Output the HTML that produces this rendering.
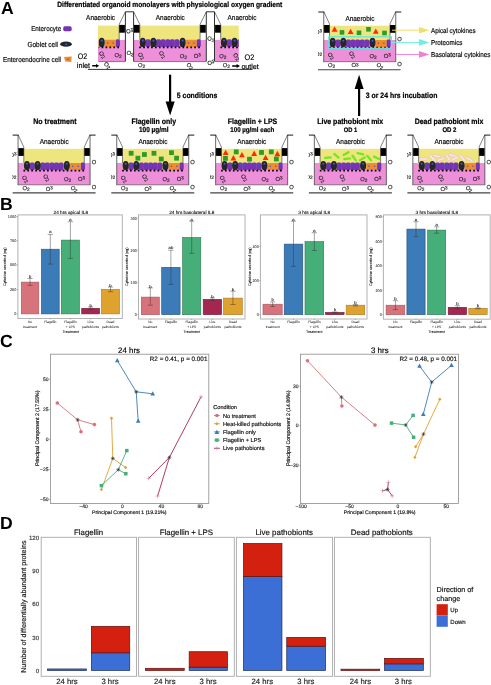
<!DOCTYPE html>
<html lang="en"><head><meta charset="utf-8"><title>Figure</title>
<style>html,body{margin:0;padding:0;background:#fff;overflow:hidden}svg{display:block}text{font-family:'Liberation Sans',sans-serif;text-rendering:geometricPrecision}</style>
</head><body>
<svg width="491" height="685" viewBox="0 0 491 685">
<rect width="491" height="685" fill="#fff"/>
<text x="1.00" y="13.50" font-size="17.6" text-anchor="start" font-weight="bold">A</text>
<text x="169.80" y="6.80" font-size="7.51" text-anchor="middle" font-weight="bold" stroke="#000" stroke-width="0.22" textLength="225.00" lengthAdjust="spacingAndGlyphs">Differentiated organoid monolayers with physiological oxygen gradient</text>
<g>
<clipPath id="cl1"><rect x="98.7" y="0" width="30" height="80"/></clipPath>
<clipPath id="cl2"><rect x="210" y="0" width="28.8" height="80"/></clipPath>
<rect x="98.00" y="25.60" width="2.00" height="21.40" fill="#EEE57E" />
<rect x="98.00" y="47.00" width="2.00" height="14.60" fill="#EE8FD9" />
<g clip-path="url(#cl1)">
<rect x="52.80" y="39.80" width="72.30" height="21.80" fill="#EE8FD9" />
<rect x="58.70" y="25.60" width="60.50" height="19.80" fill="#EEE57E" />
<rect x="53.40" y="32.30" width="5.30" height="7.50" fill="#fff" />
<rect x="119.20" y="32.30" width="5.30" height="7.50" fill="#fff" />
<rect x="53.00" y="24.90" width="5.70" height="7.80" fill="#000" />
<rect x="119.20" y="24.90" width="5.70" height="7.80" fill="#000" />
<rect x="64.70" y="39.30" width="5.0" height="7.7" rx="1.6" fill="#7833B4"/>
<circle cx="67.20" cy="41.50" r="0.8" fill="#3a56e0" opacity="0.75"/>
<rect x="75.10" y="39.30" width="5.0" height="7.7" rx="1.6" fill="#7833B4"/>
<circle cx="77.60" cy="41.50" r="0.8" fill="#3a56e0" opacity="0.75"/>
<rect x="79.70" y="39.30" width="5.0" height="7.7" rx="1.6" fill="#7833B4"/>
<circle cx="82.20" cy="41.50" r="0.8" fill="#3a56e0" opacity="0.75"/>
<rect x="84.30" y="39.30" width="5.0" height="7.7" rx="1.6" fill="#7833B4"/>
<circle cx="86.80" cy="41.50" r="0.8" fill="#3a56e0" opacity="0.75"/>
<rect x="88.90" y="39.30" width="5.0" height="7.7" rx="1.6" fill="#7833B4"/>
<circle cx="91.40" cy="41.50" r="0.8" fill="#3a56e0" opacity="0.75"/>
<rect x="93.50" y="39.30" width="5.0" height="7.7" rx="1.6" fill="#7833B4"/>
<circle cx="96.00" cy="41.50" r="0.8" fill="#3a56e0" opacity="0.75"/>
<rect x="115.45" y="39.30" width="4.5" height="7.7" rx="1.6" fill="#7833B4"/>
<circle cx="117.70" cy="41.50" r="0.8" fill="#3a56e0" opacity="0.75"/>
<rect x="104.90" y="39.80" width="10.90" height="7.1" rx="0.6" fill="#F08C2E"/>
<circle cx="107.62" cy="43.10" r="0.75" fill="#3a56e0"/>
<circle cx="113.08" cy="43.10" r="0.75" fill="#3a56e0"/>
<ellipse cx="61.90" cy="42.40" rx="3.1" ry="4.7" fill="#26262a"/>
<circle cx="61.90" cy="40.60" r="1.05" fill="#3a56e0"/>
<ellipse cx="72.50" cy="42.40" rx="3.1" ry="4.7" fill="#26262a"/>
<circle cx="72.50" cy="40.60" r="1.05" fill="#3a56e0"/>
<ellipse cx="101.70" cy="42.40" rx="3.1" ry="4.7" fill="#26262a"/>
<circle cx="101.70" cy="40.60" r="1.05" fill="#3a56e0"/>
<line x1="58.35" y1="47.40" x2="119.30" y2="47.40" stroke="#000" stroke-width="1.7" stroke-dasharray="1.7 2.23"/>
<line x1="52.50" y1="61.60" x2="125.40" y2="61.60" stroke="#555" stroke-width="0.7" />
</g>
<text transform="translate(102.40 54.60) rotate(48)" x="0" y="1.89" font-size="5.8" text-anchor="middle" fill="#222" stroke="#222" stroke-width="0.15">O<tspan font-size="4.76" dy="0.7">2</tspan></text>
<text transform="translate(118.00 55.00)" x="0" y="1.89" font-size="5.8" text-anchor="middle" fill="#222" stroke="#222" stroke-width="0.15">O<tspan font-size="4.76" dy="0.7">2</tspan></text>
<rect x="133.70" y="39.80" width="72.30" height="21.80" fill="#EE8FD9" />
<rect x="139.60" y="25.60" width="60.50" height="19.80" fill="#EEE57E" />
<rect x="134.30" y="32.30" width="5.30" height="7.50" fill="#fff" />
<rect x="200.10" y="32.30" width="5.30" height="7.50" fill="#fff" />
<rect x="133.90" y="24.90" width="5.70" height="7.80" fill="#000" />
<rect x="200.10" y="24.90" width="5.70" height="7.80" fill="#000" />
<rect x="145.60" y="39.30" width="5.0" height="7.7" rx="1.6" fill="#7833B4"/>
<circle cx="148.10" cy="41.50" r="0.8" fill="#3a56e0" opacity="0.75"/>
<rect x="156.00" y="39.30" width="5.0" height="7.7" rx="1.6" fill="#7833B4"/>
<circle cx="158.50" cy="41.50" r="0.8" fill="#3a56e0" opacity="0.75"/>
<rect x="160.60" y="39.30" width="5.0" height="7.7" rx="1.6" fill="#7833B4"/>
<circle cx="163.10" cy="41.50" r="0.8" fill="#3a56e0" opacity="0.75"/>
<rect x="165.20" y="39.30" width="5.0" height="7.7" rx="1.6" fill="#7833B4"/>
<circle cx="167.70" cy="41.50" r="0.8" fill="#3a56e0" opacity="0.75"/>
<rect x="169.80" y="39.30" width="5.0" height="7.7" rx="1.6" fill="#7833B4"/>
<circle cx="172.30" cy="41.50" r="0.8" fill="#3a56e0" opacity="0.75"/>
<rect x="174.40" y="39.30" width="5.0" height="7.7" rx="1.6" fill="#7833B4"/>
<circle cx="176.90" cy="41.50" r="0.8" fill="#3a56e0" opacity="0.75"/>
<rect x="196.35" y="39.30" width="4.5" height="7.7" rx="1.6" fill="#7833B4"/>
<circle cx="198.60" cy="41.50" r="0.8" fill="#3a56e0" opacity="0.75"/>
<rect x="185.80" y="39.80" width="10.90" height="7.1" rx="0.6" fill="#F08C2E"/>
<circle cx="188.53" cy="43.10" r="0.75" fill="#3a56e0"/>
<circle cx="193.98" cy="43.10" r="0.75" fill="#3a56e0"/>
<ellipse cx="142.80" cy="42.40" rx="3.1" ry="4.7" fill="#26262a"/>
<circle cx="142.80" cy="40.60" r="1.05" fill="#3a56e0"/>
<ellipse cx="153.40" cy="42.40" rx="3.1" ry="4.7" fill="#26262a"/>
<circle cx="153.40" cy="40.60" r="1.05" fill="#3a56e0"/>
<ellipse cx="182.60" cy="42.40" rx="3.1" ry="4.7" fill="#26262a"/>
<circle cx="182.60" cy="40.60" r="1.05" fill="#3a56e0"/>
<line x1="139.25" y1="47.40" x2="200.20" y2="47.40" stroke="#000" stroke-width="1.7" stroke-dasharray="1.7 2.23"/>
<line x1="133.40" y1="61.60" x2="206.30" y2="61.60" stroke="#555" stroke-width="0.7" />
<text transform="translate(141.20 55.80) rotate(48)" x="0" y="1.89" font-size="5.8" text-anchor="middle" fill="#222" stroke="#222" stroke-width="0.15">O<tspan font-size="4.76" dy="0.7">2</tspan></text>
<text transform="translate(162.40 54.50) rotate(48)" x="0" y="1.89" font-size="5.8" text-anchor="middle" fill="#222" stroke="#222" stroke-width="0.15">O<tspan font-size="4.76" dy="0.7">2</tspan></text>
<text transform="translate(183.30 56.20)" x="0" y="1.89" font-size="5.8" text-anchor="middle" fill="#222" stroke="#222" stroke-width="0.15">O<tspan font-size="4.76" dy="0.7">2</tspan></text>
<text transform="translate(197.40 55.70) scale(1 -1)" x="0" y="1.89" font-size="5.8" text-anchor="middle" fill="#222" stroke="#222" stroke-width="0.15">O<tspan font-size="4.76" dy="0.7">2</tspan></text>
<g clip-path="url(#cl2)">
<rect x="214.90" y="39.80" width="72.30" height="21.80" fill="#EE8FD9" />
<rect x="220.80" y="25.60" width="60.50" height="19.80" fill="#EEE57E" />
<rect x="215.50" y="32.30" width="5.30" height="7.50" fill="#fff" />
<rect x="281.30" y="32.30" width="5.30" height="7.50" fill="#fff" />
<rect x="215.10" y="24.90" width="5.70" height="7.80" fill="#000" />
<rect x="281.30" y="24.90" width="5.70" height="7.80" fill="#000" />
<rect x="226.80" y="39.30" width="5.0" height="7.7" rx="1.6" fill="#7833B4"/>
<circle cx="229.30" cy="41.50" r="0.8" fill="#3a56e0" opacity="0.75"/>
<rect x="237.20" y="39.30" width="5.0" height="7.7" rx="1.6" fill="#7833B4"/>
<circle cx="239.70" cy="41.50" r="0.8" fill="#3a56e0" opacity="0.75"/>
<rect x="241.80" y="39.30" width="5.0" height="7.7" rx="1.6" fill="#7833B4"/>
<circle cx="244.30" cy="41.50" r="0.8" fill="#3a56e0" opacity="0.75"/>
<rect x="246.40" y="39.30" width="5.0" height="7.7" rx="1.6" fill="#7833B4"/>
<circle cx="248.90" cy="41.50" r="0.8" fill="#3a56e0" opacity="0.75"/>
<rect x="251.00" y="39.30" width="5.0" height="7.7" rx="1.6" fill="#7833B4"/>
<circle cx="253.50" cy="41.50" r="0.8" fill="#3a56e0" opacity="0.75"/>
<rect x="255.60" y="39.30" width="5.0" height="7.7" rx="1.6" fill="#7833B4"/>
<circle cx="258.10" cy="41.50" r="0.8" fill="#3a56e0" opacity="0.75"/>
<rect x="277.55" y="39.30" width="4.5" height="7.7" rx="1.6" fill="#7833B4"/>
<circle cx="279.80" cy="41.50" r="0.8" fill="#3a56e0" opacity="0.75"/>
<rect x="267.00" y="39.80" width="10.90" height="7.1" rx="0.6" fill="#F08C2E"/>
<circle cx="269.73" cy="43.10" r="0.75" fill="#3a56e0"/>
<circle cx="275.17" cy="43.10" r="0.75" fill="#3a56e0"/>
<ellipse cx="224.00" cy="42.40" rx="3.1" ry="4.7" fill="#26262a"/>
<circle cx="224.00" cy="40.60" r="1.05" fill="#3a56e0"/>
<ellipse cx="234.60" cy="42.40" rx="3.1" ry="4.7" fill="#26262a"/>
<circle cx="234.60" cy="40.60" r="1.05" fill="#3a56e0"/>
<ellipse cx="263.80" cy="42.40" rx="3.1" ry="4.7" fill="#26262a"/>
<circle cx="263.80" cy="40.60" r="1.05" fill="#3a56e0"/>
<line x1="220.45" y1="47.40" x2="281.40" y2="47.40" stroke="#000" stroke-width="1.7" stroke-dasharray="1.7 2.23"/>
<line x1="214.60" y1="61.60" x2="287.50" y2="61.60" stroke="#555" stroke-width="0.7" />
</g>
<text transform="translate(222.80 56.00)" x="0" y="1.89" font-size="5.8" text-anchor="middle" fill="#222" stroke="#222" stroke-width="0.15">O<tspan font-size="4.76" dy="0.7">2</tspan></text>
<text transform="translate(236.60 56.60) rotate(50)" x="0" y="1.89" font-size="5.8" text-anchor="middle" fill="#222" stroke="#222" stroke-width="0.15">O<tspan font-size="4.76" dy="0.7">2</tspan></text>
<rect x="125.40" y="11.80" width="8.20" height="50.20" fill="#fff" />
<path d="M125.40 61.5 V11.8 H133.60 V61.5" fill="none" stroke="#1a1a1a" stroke-width="0.9" />
<path d="M125.40 11.8 L119.20 24.4 V39.8" fill="none" stroke="#1a1a1a" stroke-width="0.55" />
<path d="M133.60 11.8 L139.80 24.4 V39.8" fill="none" stroke="#1a1a1a" stroke-width="0.55" />
<text transform="translate(129.70 31.00) rotate(-5) scale(1 -1)" x="0" y="1.89" font-size="5.8" text-anchor="middle" fill="#222" stroke="#222" stroke-width="0.15">O<tspan font-size="4.76" dy="0.7">2</tspan></text>
<text transform="translate(130.00 53.30) rotate(10)" x="0" y="1.89" font-size="5.8" text-anchor="middle" fill="#222" stroke="#222" stroke-width="0.15">O<tspan font-size="4.76" dy="0.7">2</tspan></text>
<rect x="206.30" y="11.80" width="8.20" height="50.20" fill="#fff" />
<path d="M206.30 61.5 V11.8 H214.50 V61.5" fill="none" stroke="#1a1a1a" stroke-width="0.9" />
<path d="M206.30 11.8 L200.10 24.4 V39.8" fill="none" stroke="#1a1a1a" stroke-width="0.55" />
<path d="M214.50 11.8 L220.70 24.4 V39.8" fill="none" stroke="#1a1a1a" stroke-width="0.55" />
<text transform="translate(210.90 39.00) rotate(8)" x="0" y="1.89" font-size="5.8" text-anchor="middle" fill="#222" stroke="#222" stroke-width="0.15">O<tspan font-size="4.76" dy="0.7">2</tspan></text>
<text transform="translate(210.90 62.60) rotate(-5) scale(1 -1)" x="0" y="1.89" font-size="5.8" text-anchor="middle" fill="#222" stroke="#222" stroke-width="0.15">O<tspan font-size="4.76" dy="0.7">2</tspan></text>
<text x="100.60" y="20.12" font-size="7.28" text-anchor="middle" stroke="#000" stroke-width="0.16" textLength="29.00" lengthAdjust="spacingAndGlyphs">Anaerobic</text>
<text x="170.30" y="20.12" font-size="7.28" text-anchor="middle" stroke="#000" stroke-width="0.16" textLength="29.00" lengthAdjust="spacingAndGlyphs">Anaerobic</text>
<text x="242.00" y="20.12" font-size="7.28" text-anchor="middle" stroke="#000" stroke-width="0.16" textLength="29.00" lengthAdjust="spacingAndGlyphs">Anaerobic</text>
<text transform="translate(107.50 65.30) rotate(40)" x="0" y="1.89" font-size="5.8" text-anchor="middle" fill="#222" stroke="#222" stroke-width="0.15">O<tspan font-size="4.76" dy="0.7">2</tspan></text>
<text transform="translate(141.50 65.30)" x="0" y="1.89" font-size="5.8" text-anchor="middle" fill="#222" stroke="#222" stroke-width="0.15">O<tspan font-size="4.76" dy="0.7">2</tspan></text>
<text transform="translate(190.00 66.00) rotate(40)" x="0" y="1.89" font-size="5.8" text-anchor="middle" fill="#222" stroke="#222" stroke-width="0.15">O<tspan font-size="4.76" dy="0.7">2</tspan></text>
<text transform="translate(226.40 65.50)" x="0" y="1.89" font-size="5.8" text-anchor="middle" fill="#222" stroke="#222" stroke-width="0.15">O<tspan font-size="4.76" dy="0.7">2</tspan></text>
<line x1="88.00" y1="69.40" x2="252.50" y2="69.40" stroke="#333" stroke-width="1.0" />
<text x="82.40" y="59.18" font-size="8.0" text-anchor="middle" stroke="#000" stroke-width="0.16" textLength="9.40" lengthAdjust="spacingAndGlyphs">O2</text>
<text x="83.40" y="67.74" font-size="7.6" text-anchor="middle" stroke="#000" stroke-width="0.16" textLength="13.20" lengthAdjust="spacingAndGlyphs">inlet</text>
<path d="M92.2 65.1 H96.0 V63.9 L99.2 65.8 L96.0 67.7 V66.5 H92.2 Z" fill="#000" />
<text x="249.40" y="60.18" font-size="8.0" text-anchor="middle" stroke="#000" stroke-width="0.16" textLength="9.80" lengthAdjust="spacingAndGlyphs">O2</text>
<text x="250.10" y="68.66" font-size="7.4" text-anchor="middle" stroke="#000" stroke-width="0.16" textLength="17.40" lengthAdjust="spacingAndGlyphs">outlet</text>
<path d="M232.2 65.3 H236.6 V64.1 L240 66 L236.6 67.9 V66.7 H232.2 Z" fill="#000" />
<text x="61.20" y="30.55" font-size="7.09" text-anchor="end" stroke="#000" stroke-width="0.16" textLength="30.00" lengthAdjust="spacingAndGlyphs">Enterocyte</text>
<rect x="63.2" y="26.2" width="8.5" height="5" rx="1.7" fill="#7833B4"/>
<circle cx="67.6" cy="28.7" r="0.8" fill="#3a56e0"/>
<text x="58.00" y="46.62" font-size="7.29" text-anchor="end" stroke="#000" stroke-width="0.16" textLength="30.50" lengthAdjust="spacingAndGlyphs">Goblet cell</text>
<ellipse cx="66" cy="44.2" rx="5.8" ry="2.6" fill="#26262a"/>
<circle cx="66.2" cy="44.2" r="1" fill="#3a56e0"/>
<text x="61.00" y="61.99" font-size="7.19" text-anchor="end" stroke="#000" stroke-width="0.16" textLength="58.00" lengthAdjust="spacingAndGlyphs">Enteroendocrine cell</text>
<path d="M64 56.9 L71.7 56.4 L71.3 62 L65.3 61.6 Z" fill="#F08C2E"/>
<circle cx="68" cy="59.2" r="0.8" fill="#3a56e0"/>
</g>
<g>
<rect x="323.60" y="39.90" width="72.30" height="21.80" fill="#EE8FD9" />
<rect x="329.50" y="25.70" width="60.50" height="19.80" fill="#EEE57E" />
<rect x="324.20" y="32.40" width="5.30" height="7.50" fill="#fff" />
<rect x="390.00" y="32.40" width="5.30" height="7.50" fill="#fff" />
<rect x="323.80" y="25.00" width="5.70" height="7.80" fill="#000" />
<rect x="390.00" y="25.00" width="5.70" height="7.80" fill="#000" />
<rect x="335.50" y="39.40" width="5.0" height="7.7" rx="1.6" fill="#7833B4"/>
<circle cx="338.00" cy="41.60" r="0.8" fill="#3a56e0" opacity="0.75"/>
<rect x="345.90" y="39.40" width="5.0" height="7.7" rx="1.6" fill="#7833B4"/>
<circle cx="348.40" cy="41.60" r="0.8" fill="#3a56e0" opacity="0.75"/>
<rect x="350.50" y="39.40" width="5.0" height="7.7" rx="1.6" fill="#7833B4"/>
<circle cx="353.00" cy="41.60" r="0.8" fill="#3a56e0" opacity="0.75"/>
<rect x="355.10" y="39.40" width="5.0" height="7.7" rx="1.6" fill="#7833B4"/>
<circle cx="357.60" cy="41.60" r="0.8" fill="#3a56e0" opacity="0.75"/>
<rect x="359.70" y="39.40" width="5.0" height="7.7" rx="1.6" fill="#7833B4"/>
<circle cx="362.20" cy="41.60" r="0.8" fill="#3a56e0" opacity="0.75"/>
<rect x="364.30" y="39.40" width="5.0" height="7.7" rx="1.6" fill="#7833B4"/>
<circle cx="366.80" cy="41.60" r="0.8" fill="#3a56e0" opacity="0.75"/>
<rect x="386.25" y="39.40" width="4.5" height="7.7" rx="1.6" fill="#7833B4"/>
<circle cx="388.50" cy="41.60" r="0.8" fill="#3a56e0" opacity="0.75"/>
<rect x="375.70" y="39.90" width="10.90" height="7.1" rx="0.6" fill="#F08C2E"/>
<circle cx="378.43" cy="43.20" r="0.75" fill="#3a56e0"/>
<circle cx="383.88" cy="43.20" r="0.75" fill="#3a56e0"/>
<ellipse cx="332.70" cy="42.50" rx="3.1" ry="4.7" fill="#26262a"/>
<circle cx="332.70" cy="40.70" r="1.05" fill="#3a56e0"/>
<ellipse cx="343.30" cy="42.50" rx="3.1" ry="4.7" fill="#26262a"/>
<circle cx="343.30" cy="40.70" r="1.05" fill="#3a56e0"/>
<ellipse cx="372.50" cy="42.50" rx="3.1" ry="4.7" fill="#26262a"/>
<circle cx="372.50" cy="40.70" r="1.05" fill="#3a56e0"/>
<line x1="329.15" y1="47.50" x2="390.10" y2="47.50" stroke="#000" stroke-width="1.7" stroke-dasharray="1.7 2.23"/>
<line x1="323.30" y1="61.70" x2="396.20" y2="61.70" stroke="#555" stroke-width="0.7" />
<text transform="translate(331.10 55.90) rotate(48)" x="0" y="1.89" font-size="5.8" text-anchor="middle" fill="#222" stroke="#222" stroke-width="0.15">O<tspan font-size="4.76" dy="0.7">2</tspan></text>
<text transform="translate(352.30 54.60) rotate(48)" x="0" y="1.89" font-size="5.8" text-anchor="middle" fill="#222" stroke="#222" stroke-width="0.15">O<tspan font-size="4.76" dy="0.7">2</tspan></text>
<text transform="translate(373.20 56.30)" x="0" y="1.89" font-size="5.8" text-anchor="middle" fill="#222" stroke="#222" stroke-width="0.15">O<tspan font-size="4.76" dy="0.7">2</tspan></text>
<text transform="translate(387.30 55.80) scale(1 -1)" x="0" y="1.89" font-size="5.8" text-anchor="middle" fill="#222" stroke="#222" stroke-width="0.15">O<tspan font-size="4.76" dy="0.7">2</tspan></text>
<text transform="translate(331.70 65.50)" x="0" y="1.89" font-size="5.8" text-anchor="middle" fill="#222" stroke="#222" stroke-width="0.15">O<tspan font-size="4.76" dy="0.7">2</tspan></text>
<text transform="translate(355.10 65.30) scale(1 -1)" x="0" y="1.89" font-size="5.8" text-anchor="middle" fill="#222" stroke="#222" stroke-width="0.15">O<tspan font-size="4.76" dy="0.7">2</tspan></text>
<text transform="translate(380.10 65.70) rotate(28)" x="0" y="1.89" font-size="5.8" text-anchor="middle" fill="#222" stroke="#222" stroke-width="0.15">O<tspan font-size="4.76" dy="0.7">2</tspan></text>
<line x1="323.75" y1="11.90" x2="323.75" y2="61.80" stroke="#5a5a5a" stroke-width="0.9" />
<line x1="395.75" y1="11.90" x2="395.75" y2="61.80" stroke="#5a5a5a" stroke-width="0.9" />
<line x1="318.30" y1="12.00" x2="324.20" y2="12.00" stroke="#1a1a1a" stroke-width="1.0" />
<line x1="395.30" y1="12.00" x2="401.30" y2="12.00" stroke="#1a1a1a" stroke-width="1.0" />
<path d="M323.90 11.90 L329.50 23.90 V39.90" fill="none" stroke="#1a1a1a" stroke-width="0.55" />
<path d="M395.60 11.90 L390.00 23.90 V39.90" fill="none" stroke="#1a1a1a" stroke-width="0.55" />
<clipPath id="sc1"><rect x="318.00" y="21.90" width="6" height="45"/></clipPath>
<g clip-path="url(#sc1)">
<text transform="translate(318.70 31.70) scale(1 -1)" x="0" y="1.89" font-size="5.8" text-anchor="middle" fill="#222" stroke="#222" stroke-width="0.15">O<tspan font-size="4.76" dy="0.7">2</tspan></text>
<text transform="translate(318.50 53.70)" x="0" y="1.89" font-size="5.8" text-anchor="middle" fill="#222" stroke="#222" stroke-width="0.15">O<tspan font-size="4.76" dy="0.7">2</tspan></text>
</g>
<text x="399.60" y="41.29" font-size="5.8" text-anchor="middle" fill="#222" stroke="#222" stroke-width="0.16">O</text>
<text x="399.60" y="65.59" font-size="5.8" text-anchor="middle" fill="#222" stroke="#222" stroke-width="0.16">O</text>
<line x1="318.00" y1="69.80" x2="400.60" y2="69.80" stroke="#444" stroke-width="1.1" />
<text x="359.90" y="20.52" font-size="7.28" text-anchor="middle" stroke="#000" stroke-width="0.16" textLength="29.00" lengthAdjust="spacingAndGlyphs">Anaerobic</text>
<rect x="339.70" y="30.10" width="4.60" height="4.60" fill="#2f9a2a" />
<rect x="356.70" y="30.50" width="4.60" height="4.60" fill="#2f9a2a" />
<rect x="366.20" y="27.00" width="4.60" height="4.60" fill="#2f9a2a" />
<rect x="382.20" y="30.70" width="4.60" height="4.60" fill="#2f9a2a" />
<path d="M331.70 31.64 L337.50 31.64 L334.60 26.30 Z" fill="#ff2a05" />
<path d="M347.70 34.04 L353.50 34.04 L350.60 28.70 Z" fill="#ff2a05" />
<path d="M372.90 33.84 L378.70 33.84 L375.80 28.50 Z" fill="#ff2a05" />
<rect x="328.80" y="36.80" width="62.60" height="11.50" fill="none" stroke="#5ae8dc" stroke-width="1.2" />
<line x1="392.00" y1="30.20" x2="421.00" y2="30.20" stroke="#eedf6a" stroke-width="1.0" />
<path d="M419 26.90 L429.4 30.20 L419 33.50 Z" fill="#eedf6a" />
<line x1="391.40" y1="42.40" x2="421.00" y2="42.40" stroke="#6cf0e0" stroke-width="1.0" />
<path d="M419 39.10 L429.4 42.40 L419 45.70 Z" fill="#6cf0e0" />
<line x1="396.00" y1="54.40" x2="421.00" y2="54.40" stroke="#f07fd6" stroke-width="1.0" />
<path d="M419 51.10 L429.4 54.40 L419 57.70 Z" fill="#f07fd6" />
<text x="431.00" y="32.72" font-size="7.01" text-anchor="start" stroke="#000" stroke-width="0.16" textLength="44.50" lengthAdjust="spacingAndGlyphs">Apical cytokines</text>
<text x="431.00" y="44.96" font-size="7.12" text-anchor="start" stroke="#000" stroke-width="0.16" textLength="31.50" lengthAdjust="spacingAndGlyphs">Proteomics</text>
<text x="431.00" y="56.76" font-size="7.12" text-anchor="start" stroke="#000" stroke-width="0.16" textLength="59.50" lengthAdjust="spacingAndGlyphs">Basolateral cytokines</text>
</g>
<line x1="170.10" y1="74.70" x2="170.10" y2="103.00" stroke="#000" stroke-width="2.2" />
<path d="M165.6 101.6 L174.7 101.6 L170.15 115.4 Z" fill="#000" />
<text x="176.80" y="98.40" font-size="7.79" text-anchor="start" font-weight="bold" stroke="#000" stroke-width="0.22" textLength="40.60" lengthAdjust="spacingAndGlyphs">5 conditions</text>
<line x1="359.10" y1="88.00" x2="359.10" y2="116.00" stroke="#000" stroke-width="2.2" />
<path d="M354.6 88.9 L363.6 88.9 L359.1 74.7 Z" fill="#000" />
<text x="365.80" y="98.40" font-size="7.79" text-anchor="start" font-weight="bold" stroke="#000" stroke-width="0.22" textLength="71.60" lengthAdjust="spacingAndGlyphs">3 or 24 hrs incubation</text>
<g>
<rect x="17.90" y="163.00" width="72.30" height="21.80" fill="#EE8FD9" />
<rect x="23.80" y="148.80" width="60.50" height="19.80" fill="#EEE57E" />
<rect x="18.50" y="155.50" width="5.30" height="7.50" fill="#fff" />
<rect x="84.30" y="155.50" width="5.30" height="7.50" fill="#fff" />
<rect x="18.10" y="148.10" width="5.70" height="7.80" fill="#000" />
<rect x="84.30" y="148.10" width="5.70" height="7.80" fill="#000" />
<rect x="29.80" y="162.50" width="5.0" height="7.7" rx="1.6" fill="#7833B4"/>
<circle cx="32.30" cy="164.70" r="0.8" fill="#3a56e0" opacity="0.75"/>
<rect x="40.20" y="162.50" width="5.0" height="7.7" rx="1.6" fill="#7833B4"/>
<circle cx="42.70" cy="164.70" r="0.8" fill="#3a56e0" opacity="0.75"/>
<rect x="44.80" y="162.50" width="5.0" height="7.7" rx="1.6" fill="#7833B4"/>
<circle cx="47.30" cy="164.70" r="0.8" fill="#3a56e0" opacity="0.75"/>
<rect x="49.40" y="162.50" width="5.0" height="7.7" rx="1.6" fill="#7833B4"/>
<circle cx="51.90" cy="164.70" r="0.8" fill="#3a56e0" opacity="0.75"/>
<rect x="54.00" y="162.50" width="5.0" height="7.7" rx="1.6" fill="#7833B4"/>
<circle cx="56.50" cy="164.70" r="0.8" fill="#3a56e0" opacity="0.75"/>
<rect x="58.60" y="162.50" width="5.0" height="7.7" rx="1.6" fill="#7833B4"/>
<circle cx="61.10" cy="164.70" r="0.8" fill="#3a56e0" opacity="0.75"/>
<rect x="80.55" y="162.50" width="4.5" height="7.7" rx="1.6" fill="#7833B4"/>
<circle cx="82.80" cy="164.70" r="0.8" fill="#3a56e0" opacity="0.75"/>
<rect x="70.00" y="163.00" width="10.90" height="7.1" rx="0.6" fill="#F08C2E"/>
<circle cx="72.72" cy="166.30" r="0.75" fill="#3a56e0"/>
<circle cx="78.18" cy="166.30" r="0.75" fill="#3a56e0"/>
<ellipse cx="27.00" cy="165.60" rx="3.1" ry="4.7" fill="#26262a"/>
<circle cx="27.00" cy="163.80" r="1.05" fill="#3a56e0"/>
<ellipse cx="37.60" cy="165.60" rx="3.1" ry="4.7" fill="#26262a"/>
<circle cx="37.60" cy="163.80" r="1.05" fill="#3a56e0"/>
<ellipse cx="66.80" cy="165.60" rx="3.1" ry="4.7" fill="#26262a"/>
<circle cx="66.80" cy="163.80" r="1.05" fill="#3a56e0"/>
<line x1="23.45" y1="170.60" x2="84.40" y2="170.60" stroke="#000" stroke-width="1.7" stroke-dasharray="1.7 2.23"/>
<line x1="17.60" y1="184.80" x2="90.50" y2="184.80" stroke="#555" stroke-width="0.7" />
<text transform="translate(25.40 179.00) rotate(48)" x="0" y="1.89" font-size="5.8" text-anchor="middle" fill="#222" stroke="#222" stroke-width="0.15">O<tspan font-size="4.76" dy="0.7">2</tspan></text>
<text transform="translate(46.60 177.70) rotate(48)" x="0" y="1.89" font-size="5.8" text-anchor="middle" fill="#222" stroke="#222" stroke-width="0.15">O<tspan font-size="4.76" dy="0.7">2</tspan></text>
<text transform="translate(67.50 179.40)" x="0" y="1.89" font-size="5.8" text-anchor="middle" fill="#222" stroke="#222" stroke-width="0.15">O<tspan font-size="4.76" dy="0.7">2</tspan></text>
<text transform="translate(81.60 178.90) scale(1 -1)" x="0" y="1.89" font-size="5.8" text-anchor="middle" fill="#222" stroke="#222" stroke-width="0.15">O<tspan font-size="4.76" dy="0.7">2</tspan></text>
<text transform="translate(26.00 188.60)" x="0" y="1.89" font-size="5.8" text-anchor="middle" fill="#222" stroke="#222" stroke-width="0.15">O<tspan font-size="4.76" dy="0.7">2</tspan></text>
<text transform="translate(49.40 188.40) scale(1 -1)" x="0" y="1.89" font-size="5.8" text-anchor="middle" fill="#222" stroke="#222" stroke-width="0.15">O<tspan font-size="4.76" dy="0.7">2</tspan></text>
<text transform="translate(74.40 188.80) rotate(28)" x="0" y="1.89" font-size="5.8" text-anchor="middle" fill="#222" stroke="#222" stroke-width="0.15">O<tspan font-size="4.76" dy="0.7">2</tspan></text>
<line x1="18.05" y1="135.00" x2="18.05" y2="184.90" stroke="#5a5a5a" stroke-width="0.9" />
<line x1="90.05" y1="135.00" x2="90.05" y2="184.90" stroke="#5a5a5a" stroke-width="0.9" />
<line x1="12.60" y1="135.10" x2="18.50" y2="135.10" stroke="#1a1a1a" stroke-width="1.0" />
<line x1="89.60" y1="135.10" x2="95.60" y2="135.10" stroke="#1a1a1a" stroke-width="1.0" />
<path d="M18.20 135.00 L23.80 147.00 V163.00" fill="none" stroke="#1a1a1a" stroke-width="0.55" />
<path d="M89.90 135.00 L84.30 147.00 V163.00" fill="none" stroke="#1a1a1a" stroke-width="0.55" />
<clipPath id="sc2"><rect x="12.30" y="145.00" width="6" height="45"/></clipPath>
<g clip-path="url(#sc2)">
<text transform="translate(13.00 154.80) scale(1 -1)" x="0" y="1.89" font-size="5.8" text-anchor="middle" fill="#222" stroke="#222" stroke-width="0.15">O<tspan font-size="4.76" dy="0.7">2</tspan></text>
<text transform="translate(12.80 176.80)" x="0" y="1.89" font-size="5.8" text-anchor="middle" fill="#222" stroke="#222" stroke-width="0.15">O<tspan font-size="4.76" dy="0.7">2</tspan></text>
</g>
<text x="93.90" y="164.39" font-size="5.8" text-anchor="middle" fill="#222" stroke="#222" stroke-width="0.16">O</text>
<text x="93.90" y="188.69" font-size="5.8" text-anchor="middle" fill="#222" stroke="#222" stroke-width="0.16">O</text>
<line x1="12.60" y1="192.90" x2="95.60" y2="192.90" stroke="#444" stroke-width="1.1" />
<text x="54.20" y="143.62" font-size="7.28" text-anchor="middle" stroke="#000" stroke-width="0.16" textLength="29.00" lengthAdjust="spacingAndGlyphs">Anaerobic</text>
</g>
<g>
<rect x="116.60" y="163.00" width="72.30" height="21.80" fill="#EE8FD9" />
<rect x="122.50" y="148.80" width="60.50" height="19.80" fill="#EEE57E" />
<rect x="117.20" y="155.50" width="5.30" height="7.50" fill="#fff" />
<rect x="183.00" y="155.50" width="5.30" height="7.50" fill="#fff" />
<rect x="116.80" y="148.10" width="5.70" height="7.80" fill="#000" />
<rect x="183.00" y="148.10" width="5.70" height="7.80" fill="#000" />
<rect x="128.50" y="162.50" width="5.0" height="7.7" rx="1.6" fill="#7833B4"/>
<circle cx="131.00" cy="164.70" r="0.8" fill="#3a56e0" opacity="0.75"/>
<rect x="138.90" y="162.50" width="5.0" height="7.7" rx="1.6" fill="#7833B4"/>
<circle cx="141.40" cy="164.70" r="0.8" fill="#3a56e0" opacity="0.75"/>
<rect x="143.50" y="162.50" width="5.0" height="7.7" rx="1.6" fill="#7833B4"/>
<circle cx="146.00" cy="164.70" r="0.8" fill="#3a56e0" opacity="0.75"/>
<rect x="148.10" y="162.50" width="5.0" height="7.7" rx="1.6" fill="#7833B4"/>
<circle cx="150.60" cy="164.70" r="0.8" fill="#3a56e0" opacity="0.75"/>
<rect x="152.70" y="162.50" width="5.0" height="7.7" rx="1.6" fill="#7833B4"/>
<circle cx="155.20" cy="164.70" r="0.8" fill="#3a56e0" opacity="0.75"/>
<rect x="157.30" y="162.50" width="5.0" height="7.7" rx="1.6" fill="#7833B4"/>
<circle cx="159.80" cy="164.70" r="0.8" fill="#3a56e0" opacity="0.75"/>
<rect x="179.25" y="162.50" width="4.5" height="7.7" rx="1.6" fill="#7833B4"/>
<circle cx="181.50" cy="164.70" r="0.8" fill="#3a56e0" opacity="0.75"/>
<rect x="168.70" y="163.00" width="10.90" height="7.1" rx="0.6" fill="#F08C2E"/>
<circle cx="171.43" cy="166.30" r="0.75" fill="#3a56e0"/>
<circle cx="176.88" cy="166.30" r="0.75" fill="#3a56e0"/>
<ellipse cx="125.70" cy="165.60" rx="3.1" ry="4.7" fill="#26262a"/>
<circle cx="125.70" cy="163.80" r="1.05" fill="#3a56e0"/>
<ellipse cx="136.30" cy="165.60" rx="3.1" ry="4.7" fill="#26262a"/>
<circle cx="136.30" cy="163.80" r="1.05" fill="#3a56e0"/>
<ellipse cx="165.50" cy="165.60" rx="3.1" ry="4.7" fill="#26262a"/>
<circle cx="165.50" cy="163.80" r="1.05" fill="#3a56e0"/>
<line x1="122.15" y1="170.60" x2="183.10" y2="170.60" stroke="#000" stroke-width="1.7" stroke-dasharray="1.7 2.23"/>
<line x1="116.30" y1="184.80" x2="189.20" y2="184.80" stroke="#555" stroke-width="0.7" />
<text transform="translate(124.10 179.00) rotate(48)" x="0" y="1.89" font-size="5.8" text-anchor="middle" fill="#222" stroke="#222" stroke-width="0.15">O<tspan font-size="4.76" dy="0.7">2</tspan></text>
<text transform="translate(145.30 177.70) rotate(48)" x="0" y="1.89" font-size="5.8" text-anchor="middle" fill="#222" stroke="#222" stroke-width="0.15">O<tspan font-size="4.76" dy="0.7">2</tspan></text>
<text transform="translate(166.20 179.40)" x="0" y="1.89" font-size="5.8" text-anchor="middle" fill="#222" stroke="#222" stroke-width="0.15">O<tspan font-size="4.76" dy="0.7">2</tspan></text>
<text transform="translate(180.30 178.90) scale(1 -1)" x="0" y="1.89" font-size="5.8" text-anchor="middle" fill="#222" stroke="#222" stroke-width="0.15">O<tspan font-size="4.76" dy="0.7">2</tspan></text>
<text transform="translate(124.70 188.60)" x="0" y="1.89" font-size="5.8" text-anchor="middle" fill="#222" stroke="#222" stroke-width="0.15">O<tspan font-size="4.76" dy="0.7">2</tspan></text>
<text transform="translate(148.10 188.40) scale(1 -1)" x="0" y="1.89" font-size="5.8" text-anchor="middle" fill="#222" stroke="#222" stroke-width="0.15">O<tspan font-size="4.76" dy="0.7">2</tspan></text>
<text transform="translate(173.10 188.80) rotate(28)" x="0" y="1.89" font-size="5.8" text-anchor="middle" fill="#222" stroke="#222" stroke-width="0.15">O<tspan font-size="4.76" dy="0.7">2</tspan></text>
<line x1="116.75" y1="135.00" x2="116.75" y2="184.90" stroke="#5a5a5a" stroke-width="0.9" />
<line x1="188.75" y1="135.00" x2="188.75" y2="184.90" stroke="#5a5a5a" stroke-width="0.9" />
<line x1="111.30" y1="135.10" x2="117.20" y2="135.10" stroke="#1a1a1a" stroke-width="1.0" />
<line x1="188.30" y1="135.10" x2="194.30" y2="135.10" stroke="#1a1a1a" stroke-width="1.0" />
<path d="M116.90 135.00 L122.50 147.00 V163.00" fill="none" stroke="#1a1a1a" stroke-width="0.55" />
<path d="M188.60 135.00 L183.00 147.00 V163.00" fill="none" stroke="#1a1a1a" stroke-width="0.55" />
<clipPath id="sc3"><rect x="111.00" y="145.00" width="6" height="45"/></clipPath>
<g clip-path="url(#sc3)">
<text transform="translate(111.70 154.80) scale(1 -1)" x="0" y="1.89" font-size="5.8" text-anchor="middle" fill="#222" stroke="#222" stroke-width="0.15">O<tspan font-size="4.76" dy="0.7">2</tspan></text>
<text transform="translate(111.50 176.80)" x="0" y="1.89" font-size="5.8" text-anchor="middle" fill="#222" stroke="#222" stroke-width="0.15">O<tspan font-size="4.76" dy="0.7">2</tspan></text>
</g>
<text x="192.60" y="164.39" font-size="5.8" text-anchor="middle" fill="#222" stroke="#222" stroke-width="0.16">O</text>
<text x="192.60" y="188.69" font-size="5.8" text-anchor="middle" fill="#222" stroke="#222" stroke-width="0.16">O</text>
<line x1="111.30" y1="192.90" x2="194.30" y2="192.90" stroke="#444" stroke-width="1.1" />
<text x="152.90" y="143.62" font-size="7.28" text-anchor="middle" stroke="#000" stroke-width="0.16" textLength="29.00" lengthAdjust="spacingAndGlyphs">Anaerobic</text>
</g>
<g>
<rect x="215.50" y="163.00" width="72.30" height="21.80" fill="#EE8FD9" />
<rect x="221.40" y="148.80" width="60.50" height="19.80" fill="#EEE57E" />
<rect x="216.10" y="155.50" width="5.30" height="7.50" fill="#fff" />
<rect x="281.90" y="155.50" width="5.30" height="7.50" fill="#fff" />
<rect x="215.70" y="148.10" width="5.70" height="7.80" fill="#000" />
<rect x="281.90" y="148.10" width="5.70" height="7.80" fill="#000" />
<rect x="227.40" y="162.50" width="5.0" height="7.7" rx="1.6" fill="#7833B4"/>
<circle cx="229.90" cy="164.70" r="0.8" fill="#3a56e0" opacity="0.75"/>
<rect x="237.80" y="162.50" width="5.0" height="7.7" rx="1.6" fill="#7833B4"/>
<circle cx="240.30" cy="164.70" r="0.8" fill="#3a56e0" opacity="0.75"/>
<rect x="242.40" y="162.50" width="5.0" height="7.7" rx="1.6" fill="#7833B4"/>
<circle cx="244.90" cy="164.70" r="0.8" fill="#3a56e0" opacity="0.75"/>
<rect x="247.00" y="162.50" width="5.0" height="7.7" rx="1.6" fill="#7833B4"/>
<circle cx="249.50" cy="164.70" r="0.8" fill="#3a56e0" opacity="0.75"/>
<rect x="251.60" y="162.50" width="5.0" height="7.7" rx="1.6" fill="#7833B4"/>
<circle cx="254.10" cy="164.70" r="0.8" fill="#3a56e0" opacity="0.75"/>
<rect x="256.20" y="162.50" width="5.0" height="7.7" rx="1.6" fill="#7833B4"/>
<circle cx="258.70" cy="164.70" r="0.8" fill="#3a56e0" opacity="0.75"/>
<rect x="278.15" y="162.50" width="4.5" height="7.7" rx="1.6" fill="#7833B4"/>
<circle cx="280.40" cy="164.70" r="0.8" fill="#3a56e0" opacity="0.75"/>
<rect x="267.60" y="163.00" width="10.90" height="7.1" rx="0.6" fill="#F08C2E"/>
<circle cx="270.32" cy="166.30" r="0.75" fill="#3a56e0"/>
<circle cx="275.77" cy="166.30" r="0.75" fill="#3a56e0"/>
<ellipse cx="224.60" cy="165.60" rx="3.1" ry="4.7" fill="#26262a"/>
<circle cx="224.60" cy="163.80" r="1.05" fill="#3a56e0"/>
<ellipse cx="235.20" cy="165.60" rx="3.1" ry="4.7" fill="#26262a"/>
<circle cx="235.20" cy="163.80" r="1.05" fill="#3a56e0"/>
<ellipse cx="264.40" cy="165.60" rx="3.1" ry="4.7" fill="#26262a"/>
<circle cx="264.40" cy="163.80" r="1.05" fill="#3a56e0"/>
<line x1="221.05" y1="170.60" x2="282.00" y2="170.60" stroke="#000" stroke-width="1.7" stroke-dasharray="1.7 2.23"/>
<line x1="215.20" y1="184.80" x2="288.10" y2="184.80" stroke="#555" stroke-width="0.7" />
<text transform="translate(223.00 179.00) rotate(48)" x="0" y="1.89" font-size="5.8" text-anchor="middle" fill="#222" stroke="#222" stroke-width="0.15">O<tspan font-size="4.76" dy="0.7">2</tspan></text>
<text transform="translate(244.20 177.70) rotate(48)" x="0" y="1.89" font-size="5.8" text-anchor="middle" fill="#222" stroke="#222" stroke-width="0.15">O<tspan font-size="4.76" dy="0.7">2</tspan></text>
<text transform="translate(265.10 179.40)" x="0" y="1.89" font-size="5.8" text-anchor="middle" fill="#222" stroke="#222" stroke-width="0.15">O<tspan font-size="4.76" dy="0.7">2</tspan></text>
<text transform="translate(279.20 178.90) scale(1 -1)" x="0" y="1.89" font-size="5.8" text-anchor="middle" fill="#222" stroke="#222" stroke-width="0.15">O<tspan font-size="4.76" dy="0.7">2</tspan></text>
<text transform="translate(223.60 188.60)" x="0" y="1.89" font-size="5.8" text-anchor="middle" fill="#222" stroke="#222" stroke-width="0.15">O<tspan font-size="4.76" dy="0.7">2</tspan></text>
<text transform="translate(247.00 188.40) scale(1 -1)" x="0" y="1.89" font-size="5.8" text-anchor="middle" fill="#222" stroke="#222" stroke-width="0.15">O<tspan font-size="4.76" dy="0.7">2</tspan></text>
<text transform="translate(272.00 188.80) rotate(28)" x="0" y="1.89" font-size="5.8" text-anchor="middle" fill="#222" stroke="#222" stroke-width="0.15">O<tspan font-size="4.76" dy="0.7">2</tspan></text>
<line x1="215.65" y1="135.00" x2="215.65" y2="184.90" stroke="#5a5a5a" stroke-width="0.9" />
<line x1="287.65" y1="135.00" x2="287.65" y2="184.90" stroke="#5a5a5a" stroke-width="0.9" />
<line x1="210.20" y1="135.10" x2="216.10" y2="135.10" stroke="#1a1a1a" stroke-width="1.0" />
<line x1="287.20" y1="135.10" x2="293.20" y2="135.10" stroke="#1a1a1a" stroke-width="1.0" />
<path d="M215.80 135.00 L221.40 147.00 V163.00" fill="none" stroke="#1a1a1a" stroke-width="0.55" />
<path d="M287.50 135.00 L281.90 147.00 V163.00" fill="none" stroke="#1a1a1a" stroke-width="0.55" />
<clipPath id="sc4"><rect x="209.90" y="145.00" width="6" height="45"/></clipPath>
<g clip-path="url(#sc4)">
<text transform="translate(210.60 154.80) scale(1 -1)" x="0" y="1.89" font-size="5.8" text-anchor="middle" fill="#222" stroke="#222" stroke-width="0.15">O<tspan font-size="4.76" dy="0.7">2</tspan></text>
<text transform="translate(210.40 176.80)" x="0" y="1.89" font-size="5.8" text-anchor="middle" fill="#222" stroke="#222" stroke-width="0.15">O<tspan font-size="4.76" dy="0.7">2</tspan></text>
</g>
<text x="291.50" y="164.39" font-size="5.8" text-anchor="middle" fill="#222" stroke="#222" stroke-width="0.16">O</text>
<text x="291.50" y="188.69" font-size="5.8" text-anchor="middle" fill="#222" stroke="#222" stroke-width="0.16">O</text>
<line x1="210.20" y1="192.90" x2="293.20" y2="192.90" stroke="#444" stroke-width="1.1" />
<text x="251.80" y="143.62" font-size="7.28" text-anchor="middle" stroke="#000" stroke-width="0.16" textLength="29.00" lengthAdjust="spacingAndGlyphs">Anaerobic</text>
</g>
<g>
<rect x="314.20" y="163.00" width="72.30" height="21.80" fill="#EE8FD9" />
<rect x="320.10" y="148.80" width="60.50" height="19.80" fill="#EEE57E" />
<rect x="314.80" y="155.50" width="5.30" height="7.50" fill="#fff" />
<rect x="380.60" y="155.50" width="5.30" height="7.50" fill="#fff" />
<rect x="314.40" y="148.10" width="5.70" height="7.80" fill="#000" />
<rect x="380.60" y="148.10" width="5.70" height="7.80" fill="#000" />
<rect x="326.10" y="162.50" width="5.0" height="7.7" rx="1.6" fill="#7833B4"/>
<circle cx="328.60" cy="164.70" r="0.8" fill="#3a56e0" opacity="0.75"/>
<rect x="336.50" y="162.50" width="5.0" height="7.7" rx="1.6" fill="#7833B4"/>
<circle cx="339.00" cy="164.70" r="0.8" fill="#3a56e0" opacity="0.75"/>
<rect x="341.10" y="162.50" width="5.0" height="7.7" rx="1.6" fill="#7833B4"/>
<circle cx="343.60" cy="164.70" r="0.8" fill="#3a56e0" opacity="0.75"/>
<rect x="345.70" y="162.50" width="5.0" height="7.7" rx="1.6" fill="#7833B4"/>
<circle cx="348.20" cy="164.70" r="0.8" fill="#3a56e0" opacity="0.75"/>
<rect x="350.30" y="162.50" width="5.0" height="7.7" rx="1.6" fill="#7833B4"/>
<circle cx="352.80" cy="164.70" r="0.8" fill="#3a56e0" opacity="0.75"/>
<rect x="354.90" y="162.50" width="5.0" height="7.7" rx="1.6" fill="#7833B4"/>
<circle cx="357.40" cy="164.70" r="0.8" fill="#3a56e0" opacity="0.75"/>
<rect x="376.85" y="162.50" width="4.5" height="7.7" rx="1.6" fill="#7833B4"/>
<circle cx="379.10" cy="164.70" r="0.8" fill="#3a56e0" opacity="0.75"/>
<rect x="366.30" y="163.00" width="10.90" height="7.1" rx="0.6" fill="#F08C2E"/>
<circle cx="369.02" cy="166.30" r="0.75" fill="#3a56e0"/>
<circle cx="374.47" cy="166.30" r="0.75" fill="#3a56e0"/>
<ellipse cx="323.30" cy="165.60" rx="3.1" ry="4.7" fill="#26262a"/>
<circle cx="323.30" cy="163.80" r="1.05" fill="#3a56e0"/>
<ellipse cx="333.90" cy="165.60" rx="3.1" ry="4.7" fill="#26262a"/>
<circle cx="333.90" cy="163.80" r="1.05" fill="#3a56e0"/>
<ellipse cx="363.10" cy="165.60" rx="3.1" ry="4.7" fill="#26262a"/>
<circle cx="363.10" cy="163.80" r="1.05" fill="#3a56e0"/>
<line x1="319.75" y1="170.60" x2="380.70" y2="170.60" stroke="#000" stroke-width="1.7" stroke-dasharray="1.7 2.23"/>
<line x1="313.90" y1="184.80" x2="386.80" y2="184.80" stroke="#555" stroke-width="0.7" />
<text transform="translate(321.70 179.00) rotate(48)" x="0" y="1.89" font-size="5.8" text-anchor="middle" fill="#222" stroke="#222" stroke-width="0.15">O<tspan font-size="4.76" dy="0.7">2</tspan></text>
<text transform="translate(342.90 177.70) rotate(48)" x="0" y="1.89" font-size="5.8" text-anchor="middle" fill="#222" stroke="#222" stroke-width="0.15">O<tspan font-size="4.76" dy="0.7">2</tspan></text>
<text transform="translate(363.80 179.40)" x="0" y="1.89" font-size="5.8" text-anchor="middle" fill="#222" stroke="#222" stroke-width="0.15">O<tspan font-size="4.76" dy="0.7">2</tspan></text>
<text transform="translate(377.90 178.90) scale(1 -1)" x="0" y="1.89" font-size="5.8" text-anchor="middle" fill="#222" stroke="#222" stroke-width="0.15">O<tspan font-size="4.76" dy="0.7">2</tspan></text>
<text transform="translate(322.30 188.60)" x="0" y="1.89" font-size="5.8" text-anchor="middle" fill="#222" stroke="#222" stroke-width="0.15">O<tspan font-size="4.76" dy="0.7">2</tspan></text>
<text transform="translate(345.70 188.40) scale(1 -1)" x="0" y="1.89" font-size="5.8" text-anchor="middle" fill="#222" stroke="#222" stroke-width="0.15">O<tspan font-size="4.76" dy="0.7">2</tspan></text>
<text transform="translate(370.70 188.80) rotate(28)" x="0" y="1.89" font-size="5.8" text-anchor="middle" fill="#222" stroke="#222" stroke-width="0.15">O<tspan font-size="4.76" dy="0.7">2</tspan></text>
<line x1="314.35" y1="135.00" x2="314.35" y2="184.90" stroke="#5a5a5a" stroke-width="0.9" />
<line x1="386.35" y1="135.00" x2="386.35" y2="184.90" stroke="#5a5a5a" stroke-width="0.9" />
<line x1="308.90" y1="135.10" x2="314.80" y2="135.10" stroke="#1a1a1a" stroke-width="1.0" />
<line x1="385.90" y1="135.10" x2="391.90" y2="135.10" stroke="#1a1a1a" stroke-width="1.0" />
<path d="M314.50 135.00 L320.10 147.00 V163.00" fill="none" stroke="#1a1a1a" stroke-width="0.55" />
<path d="M386.20 135.00 L380.60 147.00 V163.00" fill="none" stroke="#1a1a1a" stroke-width="0.55" />
<clipPath id="sc5"><rect x="308.60" y="145.00" width="6" height="45"/></clipPath>
<g clip-path="url(#sc5)">
<text transform="translate(309.30 154.80) scale(1 -1)" x="0" y="1.89" font-size="5.8" text-anchor="middle" fill="#222" stroke="#222" stroke-width="0.15">O<tspan font-size="4.76" dy="0.7">2</tspan></text>
<text transform="translate(309.10 176.80)" x="0" y="1.89" font-size="5.8" text-anchor="middle" fill="#222" stroke="#222" stroke-width="0.15">O<tspan font-size="4.76" dy="0.7">2</tspan></text>
</g>
<text x="390.20" y="164.39" font-size="5.8" text-anchor="middle" fill="#222" stroke="#222" stroke-width="0.16">O</text>
<text x="390.20" y="188.69" font-size="5.8" text-anchor="middle" fill="#222" stroke="#222" stroke-width="0.16">O</text>
<line x1="308.90" y1="192.90" x2="391.90" y2="192.90" stroke="#444" stroke-width="1.1" />
<text x="350.50" y="143.62" font-size="7.28" text-anchor="middle" stroke="#000" stroke-width="0.16" textLength="29.00" lengthAdjust="spacingAndGlyphs">Anaerobic</text>
</g>
<g>
<rect x="412.70" y="163.00" width="72.30" height="21.80" fill="#EE8FD9" />
<rect x="418.60" y="148.80" width="60.50" height="19.80" fill="#EEE57E" />
<rect x="413.30" y="155.50" width="5.30" height="7.50" fill="#fff" />
<rect x="479.10" y="155.50" width="5.30" height="7.50" fill="#fff" />
<rect x="412.90" y="148.10" width="5.70" height="7.80" fill="#000" />
<rect x="479.10" y="148.10" width="5.70" height="7.80" fill="#000" />
<rect x="424.60" y="162.50" width="5.0" height="7.7" rx="1.6" fill="#7833B4"/>
<circle cx="427.10" cy="164.70" r="0.8" fill="#3a56e0" opacity="0.75"/>
<rect x="435.00" y="162.50" width="5.0" height="7.7" rx="1.6" fill="#7833B4"/>
<circle cx="437.50" cy="164.70" r="0.8" fill="#3a56e0" opacity="0.75"/>
<rect x="439.60" y="162.50" width="5.0" height="7.7" rx="1.6" fill="#7833B4"/>
<circle cx="442.10" cy="164.70" r="0.8" fill="#3a56e0" opacity="0.75"/>
<rect x="444.20" y="162.50" width="5.0" height="7.7" rx="1.6" fill="#7833B4"/>
<circle cx="446.70" cy="164.70" r="0.8" fill="#3a56e0" opacity="0.75"/>
<rect x="448.80" y="162.50" width="5.0" height="7.7" rx="1.6" fill="#7833B4"/>
<circle cx="451.30" cy="164.70" r="0.8" fill="#3a56e0" opacity="0.75"/>
<rect x="453.40" y="162.50" width="5.0" height="7.7" rx="1.6" fill="#7833B4"/>
<circle cx="455.90" cy="164.70" r="0.8" fill="#3a56e0" opacity="0.75"/>
<rect x="475.35" y="162.50" width="4.5" height="7.7" rx="1.6" fill="#7833B4"/>
<circle cx="477.60" cy="164.70" r="0.8" fill="#3a56e0" opacity="0.75"/>
<rect x="464.80" y="163.00" width="10.90" height="7.1" rx="0.6" fill="#F08C2E"/>
<circle cx="467.52" cy="166.30" r="0.75" fill="#3a56e0"/>
<circle cx="472.97" cy="166.30" r="0.75" fill="#3a56e0"/>
<ellipse cx="421.80" cy="165.60" rx="3.1" ry="4.7" fill="#26262a"/>
<circle cx="421.80" cy="163.80" r="1.05" fill="#3a56e0"/>
<ellipse cx="432.40" cy="165.60" rx="3.1" ry="4.7" fill="#26262a"/>
<circle cx="432.40" cy="163.80" r="1.05" fill="#3a56e0"/>
<ellipse cx="461.60" cy="165.60" rx="3.1" ry="4.7" fill="#26262a"/>
<circle cx="461.60" cy="163.80" r="1.05" fill="#3a56e0"/>
<line x1="418.25" y1="170.60" x2="479.20" y2="170.60" stroke="#000" stroke-width="1.7" stroke-dasharray="1.7 2.23"/>
<line x1="412.40" y1="184.80" x2="485.30" y2="184.80" stroke="#555" stroke-width="0.7" />
<text transform="translate(420.20 179.00) rotate(48)" x="0" y="1.89" font-size="5.8" text-anchor="middle" fill="#222" stroke="#222" stroke-width="0.15">O<tspan font-size="4.76" dy="0.7">2</tspan></text>
<text transform="translate(441.40 177.70) rotate(48)" x="0" y="1.89" font-size="5.8" text-anchor="middle" fill="#222" stroke="#222" stroke-width="0.15">O<tspan font-size="4.76" dy="0.7">2</tspan></text>
<text transform="translate(462.30 179.40)" x="0" y="1.89" font-size="5.8" text-anchor="middle" fill="#222" stroke="#222" stroke-width="0.15">O<tspan font-size="4.76" dy="0.7">2</tspan></text>
<text transform="translate(476.40 178.90) scale(1 -1)" x="0" y="1.89" font-size="5.8" text-anchor="middle" fill="#222" stroke="#222" stroke-width="0.15">O<tspan font-size="4.76" dy="0.7">2</tspan></text>
<text transform="translate(420.80 188.60)" x="0" y="1.89" font-size="5.8" text-anchor="middle" fill="#222" stroke="#222" stroke-width="0.15">O<tspan font-size="4.76" dy="0.7">2</tspan></text>
<text transform="translate(444.20 188.40) scale(1 -1)" x="0" y="1.89" font-size="5.8" text-anchor="middle" fill="#222" stroke="#222" stroke-width="0.15">O<tspan font-size="4.76" dy="0.7">2</tspan></text>
<text transform="translate(469.20 188.80) rotate(28)" x="0" y="1.89" font-size="5.8" text-anchor="middle" fill="#222" stroke="#222" stroke-width="0.15">O<tspan font-size="4.76" dy="0.7">2</tspan></text>
<line x1="412.85" y1="135.00" x2="412.85" y2="184.90" stroke="#5a5a5a" stroke-width="0.9" />
<line x1="484.85" y1="135.00" x2="484.85" y2="184.90" stroke="#5a5a5a" stroke-width="0.9" />
<line x1="407.40" y1="135.10" x2="413.30" y2="135.10" stroke="#1a1a1a" stroke-width="1.0" />
<line x1="484.40" y1="135.10" x2="490.40" y2="135.10" stroke="#1a1a1a" stroke-width="1.0" />
<path d="M413.00 135.00 L418.60 147.00 V163.00" fill="none" stroke="#1a1a1a" stroke-width="0.55" />
<path d="M484.70 135.00 L479.10 147.00 V163.00" fill="none" stroke="#1a1a1a" stroke-width="0.55" />
<clipPath id="sc6"><rect x="407.10" y="145.00" width="6" height="45"/></clipPath>
<g clip-path="url(#sc6)">
<text transform="translate(407.80 154.80) scale(1 -1)" x="0" y="1.89" font-size="5.8" text-anchor="middle" fill="#222" stroke="#222" stroke-width="0.15">O<tspan font-size="4.76" dy="0.7">2</tspan></text>
<text transform="translate(407.60 176.80)" x="0" y="1.89" font-size="5.8" text-anchor="middle" fill="#222" stroke="#222" stroke-width="0.15">O<tspan font-size="4.76" dy="0.7">2</tspan></text>
</g>
<text x="488.70" y="164.39" font-size="5.8" text-anchor="middle" fill="#222" stroke="#222" stroke-width="0.16">O</text>
<text x="488.70" y="188.69" font-size="5.8" text-anchor="middle" fill="#222" stroke="#222" stroke-width="0.16">O</text>
<line x1="407.40" y1="192.90" x2="490.40" y2="192.90" stroke="#444" stroke-width="1.1" />
<text x="449.00" y="143.62" font-size="7.28" text-anchor="middle" stroke="#000" stroke-width="0.16" textLength="29.00" lengthAdjust="spacingAndGlyphs">Anaerobic</text>
</g>
<text x="54.90" y="124.25" font-size="7.92" text-anchor="middle" font-weight="bold" stroke="#000" stroke-width="0.22" textLength="43.20" lengthAdjust="spacingAndGlyphs">No treatment</text>
<text x="153.80" y="124.04" font-size="7.89" text-anchor="middle" font-weight="bold" stroke="#000" stroke-width="0.22" textLength="44.60" lengthAdjust="spacingAndGlyphs">Flagellin only</text>
<text x="153.80" y="132.43" font-size="7.31" text-anchor="middle" font-weight="bold" stroke="#000" stroke-width="0.22" textLength="29.60" lengthAdjust="spacingAndGlyphs">100 µg/ml</text>
<text x="252.50" y="124.02" font-size="7.82" text-anchor="middle" font-weight="bold" stroke="#000" stroke-width="0.22" textLength="49.40" lengthAdjust="spacingAndGlyphs">Flagellin + LPS</text>
<text x="252.30" y="132.31" font-size="6.97" text-anchor="middle" font-weight="bold" stroke="#000" stroke-width="0.22" textLength="44.00" lengthAdjust="spacingAndGlyphs">100 µg/ml each</text>
<text x="350.20" y="124.04" font-size="7.9" text-anchor="middle" font-weight="bold" stroke="#000" stroke-width="0.22" textLength="66.00" lengthAdjust="spacingAndGlyphs">Live pathobiont mix</text>
<text x="350.40" y="132.14" font-size="6.49" text-anchor="middle" font-weight="bold" stroke="#000" stroke-width="0.22" textLength="13.40" lengthAdjust="spacingAndGlyphs">OD 1</text>
<text x="449.00" y="124.02" font-size="7.84" text-anchor="middle" font-weight="bold" stroke="#000" stroke-width="0.22" textLength="68.60" lengthAdjust="spacingAndGlyphs">Dead pathobiont mix</text>
<text x="449.40" y="132.24" font-size="6.78" text-anchor="middle" font-weight="bold" stroke="#000" stroke-width="0.22" textLength="14.00" lengthAdjust="spacingAndGlyphs">OD 2</text>
<rect x="128.76" y="150.89" width="4.80" height="4.80" fill="#2f9a2a" />
<rect x="135.48" y="155.78" width="4.80" height="4.80" fill="#2f9a2a" />
<rect x="142.00" y="152.11" width="4.80" height="4.80" fill="#2f9a2a" />
<rect x="151.57" y="150.89" width="4.80" height="4.80" fill="#2f9a2a" />
<rect x="158.90" y="156.59" width="4.80" height="4.80" fill="#2f9a2a" />
<rect x="169.09" y="150.28" width="4.80" height="4.80" fill="#2f9a2a" />
<rect x="174.18" y="155.78" width="4.80" height="4.80" fill="#2f9a2a" />
<rect x="233.85" y="149.46" width="4.80" height="4.80" fill="#2f9a2a" />
<rect x="223.06" y="155.98" width="4.80" height="4.80" fill="#2f9a2a" />
<rect x="247.09" y="156.80" width="4.80" height="4.80" fill="#2f9a2a" />
<rect x="259.11" y="150.07" width="4.80" height="4.80" fill="#2f9a2a" />
<rect x="268.88" y="149.46" width="4.80" height="4.80" fill="#2f9a2a" />
<rect x="273.97" y="156.59" width="4.80" height="4.80" fill="#2f9a2a" />
<path d="M222.76 155.11 L228.56 155.11 L225.66 149.78 Z" fill="#ff2a05" />
<path d="M230.50 160.41 L236.30 160.41 L233.40 155.07 Z" fill="#ff2a05" />
<path d="M239.06 157.35 L244.86 157.35 L241.96 152.02 Z" fill="#ff2a05" />
<path d="M251.28 155.93 L257.08 155.93 L254.18 150.59 Z" fill="#ff2a05" />
<path d="M262.68 160.00 L268.48 160.00 L265.58 154.67 Z" fill="#ff2a05" />
<path d="M274.49 156.13 L280.29 156.13 L277.39 150.80 Z" fill="#ff2a05" />
<rect x="323.80" y="156.45" width="8.0" height="2.3" rx="1.15" fill="#6FEA1E" transform="rotate(-5 327.80 157.60)"/>
<rect x="332.40" y="154.55" width="8.0" height="2.3" rx="1.15" fill="#6FEA1E" transform="rotate(40 336.40 155.70)"/>
<rect x="342.10" y="152.45" width="8.0" height="2.3" rx="1.15" fill="#6FEA1E" transform="rotate(-30 346.10 153.60)"/>
<rect x="343.10" y="157.65" width="8.0" height="2.3" rx="1.15" fill="#6FEA1E" transform="rotate(-8 347.10 158.80)"/>
<rect x="350.20" y="156.95" width="8.0" height="2.3" rx="1.15" fill="#6FEA1E" transform="rotate(55 354.20 158.10)"/>
<rect x="356.40" y="152.65" width="8.0" height="2.3" rx="1.15" fill="#6FEA1E" transform="rotate(12 360.40 153.80)"/>
<rect x="358.40" y="157.65" width="8.0" height="2.3" rx="1.15" fill="#6FEA1E" transform="rotate(-30 362.40 158.80)"/>
<rect x="365.20" y="156.95" width="8.0" height="2.3" rx="1.15" fill="#6FEA1E" transform="rotate(50 369.20 158.10)"/>
<rect x="372.60" y="156.65" width="8.0" height="2.3" rx="1.15" fill="#6FEA1E" transform="rotate(25 376.60 157.80)"/>
<rect x="419.80" y="157.95" width="8.0" height="2.1" rx="1.05" fill="#F6ECF2" transform="rotate(0 423.80 159.00)" stroke="#EFAFC8" stroke-width="0.5"/>
<rect x="428.40" y="157.05" width="8.0" height="2.1" rx="1.05" fill="#F6ECF2" transform="rotate(50 432.40 158.10)" stroke="#EFAFC8" stroke-width="0.5"/>
<rect x="433.10" y="155.05" width="8.0" height="2.1" rx="1.05" fill="#F6ECF2" transform="rotate(12 437.10 156.10)" stroke="#EFAFC8" stroke-width="0.5"/>
<rect x="437.10" y="158.25" width="8.0" height="2.1" rx="1.05" fill="#F6ECF2" transform="rotate(-20 441.10 159.30)" stroke="#EFAFC8" stroke-width="0.5"/>
<rect x="444.10" y="156.75" width="8.0" height="2.1" rx="1.05" fill="#F6ECF2" transform="rotate(60 448.10 157.80)" stroke="#EFAFC8" stroke-width="0.5"/>
<rect x="448.40" y="154.35" width="8.0" height="2.1" rx="1.05" fill="#F6ECF2" transform="rotate(15 452.40 155.40)" stroke="#EFAFC8" stroke-width="0.5"/>
<rect x="450.90" y="157.55" width="8.0" height="2.1" rx="1.05" fill="#F6ECF2" transform="rotate(-30 454.90 158.60)" stroke="#EFAFC8" stroke-width="0.5"/>
<rect x="458.40" y="157.05" width="8.0" height="2.1" rx="1.05" fill="#F6ECF2" transform="rotate(50 462.40 158.10)" stroke="#EFAFC8" stroke-width="0.5"/>
<rect x="465.20" y="158.25" width="8.0" height="2.1" rx="1.05" fill="#F6ECF2" transform="rotate(25 469.20 159.30)" stroke="#EFAFC8" stroke-width="0.5"/>
<text x="-0.10" y="209.70" font-size="17.6" text-anchor="start" font-weight="bold">B</text>
<rect x="17.90" y="214.90" width="104.40" height="103.60" fill="#fff" stroke="#b2b2b2" stroke-width="1.0" />
<text x="70.80" y="213.59" font-size="4.7" text-anchor="middle" stroke="#000" stroke-width="0.1">24 hrs apical IL8</text>
<line x1="16.90" y1="313.90" x2="17.90" y2="313.90" stroke="#555" stroke-width="0.4" />
<text x="16.30" y="315.27" font-size="3.8" text-anchor="end" fill="#333" stroke="#333" stroke-width="0.05">0</text>
<line x1="16.90" y1="289.50" x2="17.90" y2="289.50" stroke="#555" stroke-width="0.4" />
<text x="16.30" y="290.87" font-size="3.8" text-anchor="end" fill="#333" stroke="#333" stroke-width="0.05">250</text>
<line x1="16.90" y1="265.10" x2="17.90" y2="265.10" stroke="#555" stroke-width="0.4" />
<text x="16.30" y="266.47" font-size="3.8" text-anchor="end" fill="#333" stroke="#333" stroke-width="0.05">500</text>
<line x1="16.90" y1="240.80" x2="17.90" y2="240.80" stroke="#555" stroke-width="0.4" />
<text x="16.30" y="242.17" font-size="3.8" text-anchor="end" fill="#333" stroke="#333" stroke-width="0.05">750</text>
<line x1="16.90" y1="216.50" x2="17.90" y2="216.50" stroke="#555" stroke-width="0.4" />
<text x="16.30" y="217.87" font-size="3.8" text-anchor="end" fill="#333" stroke="#333" stroke-width="0.05">1000</text>
<text x="4.60" y="268.18" font-size="3.84" text-anchor="middle" stroke="#000" stroke-width="0.05" textLength="38.60" lengthAdjust="spacingAndGlyphs" transform="rotate(-90 4.60 266.80)">Cytokine secreted (pg)</text>
<rect x="21.30" y="282.10" width="17.50" height="31.80" fill="#D6737B" stroke="#A9525A" stroke-width="0.6" />
<path d="M27.45 278.50 H32.65 M30.05 278.50 V285.40 M27.45 285.40 H32.65" fill="none" stroke="#333" stroke-width="0.45" />
<text x="30.05" y="278.11" font-size="4.2" text-anchor="middle" stroke="#000" stroke-width="0.05">b</text>
<line x1="30.05" y1="318.50" x2="30.05" y2="319.50" stroke="#555" stroke-width="0.4" />
<text x="30.05" y="323.39" font-size="3.3" text-anchor="middle" fill="#333" stroke="#333" stroke-width="0.05">No</text>
<text x="30.05" y="327.99" font-size="3.3" text-anchor="middle" fill="#333" stroke="#333" stroke-width="0.05">treatment</text>
<rect x="41.40" y="249.20" width="17.80" height="64.70" fill="#3B7BB7" stroke="#2A5079" stroke-width="0.6" />
<path d="M47.70 234.40 H52.90 M50.30 234.40 V264.10 M47.70 264.10 H52.90" fill="none" stroke="#333" stroke-width="0.45" />
<text x="50.30" y="233.11" font-size="4.2" text-anchor="middle" stroke="#000" stroke-width="0.05">a</text>
<line x1="50.30" y1="318.50" x2="50.30" y2="319.50" stroke="#555" stroke-width="0.4" />
<text x="50.30" y="323.39" font-size="3.3" text-anchor="middle" fill="#333" stroke="#333" stroke-width="0.05">Flagellin</text>
<rect x="61.30" y="240.10" width="18.20" height="73.80" fill="#46AE79" stroke="#2F7752" stroke-width="0.6" />
<path d="M67.80 221.70 H73.00 M70.40 221.70 V258.40 M67.80 258.40 H73.00" fill="none" stroke="#333" stroke-width="0.45" />
<text x="70.40" y="220.51" font-size="4.2" text-anchor="middle" stroke="#000" stroke-width="0.05">a</text>
<line x1="70.40" y1="318.50" x2="70.40" y2="319.50" stroke="#555" stroke-width="0.4" />
<text x="70.40" y="323.39" font-size="3.3" text-anchor="middle" fill="#333" stroke="#333" stroke-width="0.05">Flagellin</text>
<text x="70.40" y="327.99" font-size="3.3" text-anchor="middle" fill="#333" stroke="#333" stroke-width="0.05">+ LPS</text>
<rect x="81.70" y="308.30" width="17.90" height="5.60" fill="#A3274F" stroke="#6A1C36" stroke-width="0.6" />
<path d="M88.05 307.00 H93.25 M90.65 307.00 V309.50 M88.05 309.50 H93.25" fill="none" stroke="#333" stroke-width="0.45" />
<text x="90.65" y="306.81" font-size="4.2" text-anchor="middle" stroke="#000" stroke-width="0.05">b</text>
<line x1="90.65" y1="318.50" x2="90.65" y2="319.50" stroke="#555" stroke-width="0.4" />
<text x="90.65" y="323.39" font-size="3.3" text-anchor="middle" fill="#333" stroke="#333" stroke-width="0.05">Live</text>
<text x="90.65" y="327.99" font-size="3.3" text-anchor="middle" fill="#333" stroke="#333" stroke-width="0.05">pathobionts</text>
<rect x="101.50" y="289.40" width="18.00" height="24.50" fill="#E0A22E" stroke="#A67822" stroke-width="0.6" />
<path d="M107.90 287.00 H113.10 M110.50 287.00 V291.70 M107.90 291.70 H113.10" fill="none" stroke="#333" stroke-width="0.45" />
<text x="110.50" y="286.71" font-size="4.2" text-anchor="middle" stroke="#000" stroke-width="0.05">b</text>
<line x1="110.50" y1="318.50" x2="110.50" y2="319.50" stroke="#555" stroke-width="0.4" />
<text x="110.50" y="323.39" font-size="3.3" text-anchor="middle" fill="#333" stroke="#333" stroke-width="0.05">Dead</text>
<text x="110.50" y="327.99" font-size="3.3" text-anchor="middle" fill="#333" stroke="#333" stroke-width="0.05">pathobionts</text>
<text x="70.80" y="332.62" font-size="3.67" text-anchor="middle" stroke="#000" stroke-width="0.05" textLength="16.60" lengthAdjust="spacingAndGlyphs">Treatment</text>
<rect x="138.50" y="214.90" width="106.50" height="104.10" fill="#fff" stroke="#b2b2b2" stroke-width="1.0" />
<text x="191.80" y="213.59" font-size="4.7" text-anchor="middle" stroke="#000" stroke-width="0.1">24 hrs basolateral IL8</text>
<line x1="137.50" y1="314.70" x2="138.50" y2="314.70" stroke="#555" stroke-width="0.4" />
<text x="136.90" y="316.07" font-size="3.8" text-anchor="end" fill="#333" stroke="#333" stroke-width="0.05">0</text>
<line x1="137.50" y1="282.60" x2="138.50" y2="282.60" stroke="#555" stroke-width="0.4" />
<text x="136.90" y="283.97" font-size="3.8" text-anchor="end" fill="#333" stroke="#333" stroke-width="0.05">100</text>
<line x1="137.50" y1="250.30" x2="138.50" y2="250.30" stroke="#555" stroke-width="0.4" />
<text x="136.90" y="251.67" font-size="3.8" text-anchor="end" fill="#333" stroke="#333" stroke-width="0.05">200</text>
<line x1="137.50" y1="218.20" x2="138.50" y2="218.20" stroke="#555" stroke-width="0.4" />
<text x="136.90" y="219.57" font-size="3.8" text-anchor="end" fill="#333" stroke="#333" stroke-width="0.05">300</text>
<text x="126.20" y="268.18" font-size="3.84" text-anchor="middle" stroke="#000" stroke-width="0.05" textLength="38.60" lengthAdjust="spacingAndGlyphs" transform="rotate(-90 126.20 266.80)">Cytokine secreted (pg)</text>
<rect x="141.30" y="297.10" width="18.00" height="17.60" fill="#D6737B" stroke="#A9525A" stroke-width="0.6" />
<path d="M147.70 287.90 H152.90 M150.30 287.90 V305.20 M147.70 305.20 H152.90" fill="none" stroke="#333" stroke-width="0.45" />
<text x="150.30" y="287.51" font-size="4.2" text-anchor="middle" stroke="#000" stroke-width="0.05">b</text>
<line x1="150.30" y1="319.00" x2="150.30" y2="320.00" stroke="#555" stroke-width="0.4" />
<text x="150.30" y="323.39" font-size="3.3" text-anchor="middle" fill="#333" stroke="#333" stroke-width="0.05">No</text>
<text x="150.30" y="327.99" font-size="3.3" text-anchor="middle" fill="#333" stroke="#333" stroke-width="0.05">treatment</text>
<rect x="161.70" y="267.30" width="18.40" height="47.40" fill="#3B7BB7" stroke="#2A5079" stroke-width="0.6" />
<path d="M168.30 250.20 H173.50 M170.90 250.20 V284.40 M168.30 284.40 H173.50" fill="none" stroke="#333" stroke-width="0.45" />
<text x="170.90" y="249.41" font-size="4.2" text-anchor="middle" stroke="#000" stroke-width="0.05">ab</text>
<line x1="170.90" y1="319.00" x2="170.90" y2="320.00" stroke="#555" stroke-width="0.4" />
<text x="170.90" y="323.39" font-size="3.3" text-anchor="middle" fill="#333" stroke="#333" stroke-width="0.05">Flagellin</text>
<rect x="182.60" y="237.50" width="18.20" height="77.20" fill="#46AE79" stroke="#2F7752" stroke-width="0.6" />
<path d="M189.10 221.20 H194.30 M191.70 221.20 V253.30 M189.10 253.30 H194.30" fill="none" stroke="#333" stroke-width="0.45" />
<text x="191.70" y="220.51" font-size="4.2" text-anchor="middle" stroke="#000" stroke-width="0.05">a</text>
<line x1="191.70" y1="319.00" x2="191.70" y2="320.00" stroke="#555" stroke-width="0.4" />
<text x="191.70" y="323.39" font-size="3.3" text-anchor="middle" fill="#333" stroke="#333" stroke-width="0.05">Flagellin</text>
<text x="191.70" y="327.99" font-size="3.3" text-anchor="middle" fill="#333" stroke="#333" stroke-width="0.05">+ LPS</text>
<rect x="203.20" y="299.40" width="18.40" height="15.30" fill="#A3274F" stroke="#6A1C36" stroke-width="0.6" />
<path d="M209.80 297.90 H215.00 M212.40 297.90 V300.40 M209.80 300.40 H215.00" fill="none" stroke="#333" stroke-width="0.45" />
<text x="212.40" y="297.81" font-size="4.2" text-anchor="middle" stroke="#000" stroke-width="0.05">b</text>
<line x1="212.40" y1="319.00" x2="212.40" y2="320.00" stroke="#555" stroke-width="0.4" />
<text x="212.40" y="323.39" font-size="3.3" text-anchor="middle" fill="#333" stroke="#333" stroke-width="0.05">Live</text>
<text x="212.40" y="327.99" font-size="3.3" text-anchor="middle" fill="#333" stroke="#333" stroke-width="0.05">pathobionts</text>
<rect x="223.60" y="298.10" width="18.70" height="16.60" fill="#E0A22E" stroke="#A67822" stroke-width="0.6" />
<path d="M230.35 291.20 H235.55 M232.95 291.20 V304.50 M230.35 304.50 H235.55" fill="none" stroke="#333" stroke-width="0.45" />
<text x="232.95" y="290.81" font-size="4.2" text-anchor="middle" stroke="#000" stroke-width="0.05">b</text>
<line x1="232.95" y1="319.00" x2="232.95" y2="320.00" stroke="#555" stroke-width="0.4" />
<text x="232.95" y="323.39" font-size="3.3" text-anchor="middle" fill="#333" stroke="#333" stroke-width="0.05">Dead</text>
<text x="232.95" y="327.99" font-size="3.3" text-anchor="middle" fill="#333" stroke="#333" stroke-width="0.05">pathobionts</text>
<text x="191.80" y="332.62" font-size="3.67" text-anchor="middle" stroke="#000" stroke-width="0.05" textLength="16.60" lengthAdjust="spacingAndGlyphs">Treatment</text>
<rect x="260.40" y="214.90" width="106.60" height="104.10" fill="#fff" stroke="#b2b2b2" stroke-width="1.0" />
<text x="314.20" y="213.59" font-size="4.7" text-anchor="middle" stroke="#000" stroke-width="0.1">3 hrs apical IL8</text>
<line x1="259.40" y1="314.70" x2="260.40" y2="314.70" stroke="#555" stroke-width="0.4" />
<text x="258.80" y="316.07" font-size="3.8" text-anchor="end" fill="#333" stroke="#333" stroke-width="0.05">0</text>
<line x1="259.40" y1="280.50" x2="260.40" y2="280.50" stroke="#555" stroke-width="0.4" />
<text x="258.80" y="281.87" font-size="3.8" text-anchor="end" fill="#333" stroke="#333" stroke-width="0.05">200</text>
<line x1="259.40" y1="246.40" x2="260.40" y2="246.40" stroke="#555" stroke-width="0.4" />
<text x="258.80" y="247.77" font-size="3.8" text-anchor="end" fill="#333" stroke="#333" stroke-width="0.05">400</text>
<text x="249.20" y="268.18" font-size="3.84" text-anchor="middle" stroke="#000" stroke-width="0.05" textLength="38.60" lengthAdjust="spacingAndGlyphs" transform="rotate(-90 249.20 266.80)">Cytokine secreted (pg)</text>
<rect x="263.00" y="304.20" width="19.20" height="10.50" fill="#D6737B" stroke="#A9525A" stroke-width="0.6" />
<path d="M270.00 301.90 H275.20 M272.60 301.90 V306.50 M270.00 306.50 H275.20" fill="none" stroke="#333" stroke-width="0.45" />
<text x="272.60" y="301.01" font-size="4.2" text-anchor="middle" stroke="#000" stroke-width="0.05">b</text>
<line x1="272.60" y1="319.00" x2="272.60" y2="320.00" stroke="#555" stroke-width="0.4" />
<text x="272.60" y="323.39" font-size="3.3" text-anchor="middle" fill="#333" stroke="#333" stroke-width="0.05">No</text>
<text x="272.60" y="327.99" font-size="3.3" text-anchor="middle" fill="#333" stroke="#333" stroke-width="0.05">treatment</text>
<rect x="284.20" y="244.10" width="18.60" height="70.60" fill="#3B7BB7" stroke="#2A5079" stroke-width="0.6" />
<path d="M290.90 221.20 H296.10 M293.50 221.20 V266.30 M290.90 266.30 H296.10" fill="none" stroke="#333" stroke-width="0.45" />
<text x="293.50" y="221.01" font-size="4.2" text-anchor="middle" stroke="#000" stroke-width="0.05">a</text>
<line x1="293.50" y1="319.00" x2="293.50" y2="320.00" stroke="#555" stroke-width="0.4" />
<text x="293.50" y="323.39" font-size="3.3" text-anchor="middle" fill="#333" stroke="#333" stroke-width="0.05">Flagellin</text>
<rect x="305.00" y="241.60" width="18.70" height="73.10" fill="#46AE79" stroke="#2F7752" stroke-width="0.6" />
<path d="M311.75 232.70 H316.95 M314.35 232.70 V250.50 M311.75 250.50 H316.95" fill="none" stroke="#333" stroke-width="0.45" />
<text x="314.35" y="232.21" font-size="4.2" text-anchor="middle" stroke="#000" stroke-width="0.05">a</text>
<line x1="314.35" y1="319.00" x2="314.35" y2="320.00" stroke="#555" stroke-width="0.4" />
<text x="314.35" y="323.39" font-size="3.3" text-anchor="middle" fill="#333" stroke="#333" stroke-width="0.05">Flagellin</text>
<text x="314.35" y="327.99" font-size="3.3" text-anchor="middle" fill="#333" stroke="#333" stroke-width="0.05">+ LPS</text>
<rect x="325.60" y="312.40" width="18.50" height="2.30" fill="#A3274F" stroke="#6A1C36" stroke-width="0.6" />
<path d="M332.25 311.90 H337.45 M334.85 311.90 V312.90 M332.25 312.90 H337.45" fill="none" stroke="#333" stroke-width="0.45" />
<text x="334.85" y="311.21" font-size="4.2" text-anchor="middle" stroke="#000" stroke-width="0.05">b</text>
<line x1="334.85" y1="319.00" x2="334.85" y2="320.00" stroke="#555" stroke-width="0.4" />
<text x="334.85" y="323.39" font-size="3.3" text-anchor="middle" fill="#333" stroke="#333" stroke-width="0.05">Live</text>
<text x="334.85" y="327.99" font-size="3.3" text-anchor="middle" fill="#333" stroke="#333" stroke-width="0.05">pathobionts</text>
<rect x="346.20" y="305.20" width="18.50" height="9.50" fill="#E0A22E" stroke="#A67822" stroke-width="0.6" />
<path d="M352.85 304.50 H358.05 M355.45 304.50 V306.00 M352.85 306.00 H358.05" fill="none" stroke="#333" stroke-width="0.45" />
<text x="355.45" y="303.81" font-size="4.2" text-anchor="middle" stroke="#000" stroke-width="0.05">b</text>
<line x1="355.45" y1="319.00" x2="355.45" y2="320.00" stroke="#555" stroke-width="0.4" />
<text x="355.45" y="323.39" font-size="3.3" text-anchor="middle" fill="#333" stroke="#333" stroke-width="0.05">Dead</text>
<text x="355.45" y="327.99" font-size="3.3" text-anchor="middle" fill="#333" stroke="#333" stroke-width="0.05">pathobionts</text>
<text x="314.20" y="332.62" font-size="3.67" text-anchor="middle" stroke="#000" stroke-width="0.05" textLength="16.60" lengthAdjust="spacingAndGlyphs">Treatment</text>
<rect x="383.40" y="214.90" width="106.80" height="104.30" fill="#fff" stroke="#b2b2b2" stroke-width="1.0" />
<text x="436.80" y="213.59" font-size="4.7" text-anchor="middle" stroke="#000" stroke-width="0.1">3 hrs basolateral IL8</text>
<line x1="382.40" y1="314.70" x2="383.40" y2="314.70" stroke="#555" stroke-width="0.4" />
<text x="381.80" y="316.07" font-size="3.8" text-anchor="end" fill="#333" stroke="#333" stroke-width="0.05">0</text>
<line x1="382.40" y1="290.20" x2="383.40" y2="290.20" stroke="#555" stroke-width="0.4" />
<text x="381.80" y="291.57" font-size="3.8" text-anchor="end" fill="#333" stroke="#333" stroke-width="0.05">200</text>
<line x1="382.40" y1="265.80" x2="383.40" y2="265.80" stroke="#555" stroke-width="0.4" />
<text x="381.80" y="267.17" font-size="3.8" text-anchor="end" fill="#333" stroke="#333" stroke-width="0.05">400</text>
<line x1="382.40" y1="241.20" x2="383.40" y2="241.20" stroke="#555" stroke-width="0.4" />
<text x="381.80" y="242.57" font-size="3.8" text-anchor="end" fill="#333" stroke="#333" stroke-width="0.05">600</text>
<line x1="382.40" y1="216.70" x2="383.40" y2="216.70" stroke="#555" stroke-width="0.4" />
<text x="381.80" y="218.07" font-size="3.8" text-anchor="end" fill="#333" stroke="#333" stroke-width="0.05">800</text>
<text x="370.60" y="268.18" font-size="3.84" text-anchor="middle" stroke="#000" stroke-width="0.05" textLength="38.60" lengthAdjust="spacingAndGlyphs" transform="rotate(-90 370.60 266.80)">Cytokine secreted (pg)</text>
<rect x="386.10" y="305.20" width="18.70" height="9.50" fill="#D6737B" stroke="#A9525A" stroke-width="0.6" />
<path d="M392.85 300.70 H398.05 M395.45 300.70 V309.60 M392.85 309.60 H398.05" fill="none" stroke="#333" stroke-width="0.45" />
<text x="395.45" y="300.01" font-size="4.2" text-anchor="middle" stroke="#000" stroke-width="0.05">b</text>
<line x1="395.45" y1="319.20" x2="395.45" y2="320.20" stroke="#555" stroke-width="0.4" />
<text x="395.45" y="323.39" font-size="3.3" text-anchor="middle" fill="#333" stroke="#333" stroke-width="0.05">No</text>
<text x="395.45" y="327.99" font-size="3.3" text-anchor="middle" fill="#333" stroke="#333" stroke-width="0.05">treatment</text>
<rect x="406.90" y="229.10" width="18.20" height="85.60" fill="#3B7BB7" stroke="#2A5079" stroke-width="0.6" />
<path d="M413.40 221.70 H418.60 M416.00 221.70 V236.50 M413.40 236.50 H418.60" fill="none" stroke="#333" stroke-width="0.45" />
<text x="416.00" y="221.31" font-size="4.2" text-anchor="middle" stroke="#000" stroke-width="0.05">a</text>
<line x1="416.00" y1="319.20" x2="416.00" y2="320.20" stroke="#555" stroke-width="0.4" />
<text x="416.00" y="323.39" font-size="3.3" text-anchor="middle" fill="#333" stroke="#333" stroke-width="0.05">Flagellin</text>
<rect x="427.60" y="230.10" width="18.10" height="84.60" fill="#46AE79" stroke="#2F7752" stroke-width="0.6" />
<path d="M434.05 226.80 H439.25 M436.65 226.80 V233.20 M434.05 233.20 H439.25" fill="none" stroke="#333" stroke-width="0.45" />
<text x="436.65" y="226.01" font-size="4.2" text-anchor="middle" stroke="#000" stroke-width="0.05">a</text>
<line x1="436.65" y1="319.20" x2="436.65" y2="320.20" stroke="#555" stroke-width="0.4" />
<text x="436.65" y="323.39" font-size="3.3" text-anchor="middle" fill="#333" stroke="#333" stroke-width="0.05">Flagellin</text>
<text x="436.65" y="327.99" font-size="3.3" text-anchor="middle" fill="#333" stroke="#333" stroke-width="0.05">+ LPS</text>
<rect x="448.20" y="307.30" width="18.40" height="7.40" fill="#A3274F" stroke="#6A1C36" stroke-width="0.6" />
<path d="M454.80 305.70 H460.00 M457.40 305.70 V308.50 M454.80 308.50 H460.00" fill="none" stroke="#333" stroke-width="0.45" />
<text x="457.40" y="305.31" font-size="4.2" text-anchor="middle" stroke="#000" stroke-width="0.05">b</text>
<line x1="457.40" y1="319.20" x2="457.40" y2="320.20" stroke="#555" stroke-width="0.4" />
<text x="457.40" y="323.39" font-size="3.3" text-anchor="middle" fill="#333" stroke="#333" stroke-width="0.05">Live</text>
<text x="457.40" y="327.99" font-size="3.3" text-anchor="middle" fill="#333" stroke="#333" stroke-width="0.05">pathobionts</text>
<rect x="468.80" y="308.30" width="18.40" height="6.40" fill="#E0A22E" stroke="#A67822" stroke-width="0.6" />
<path d="M475.40 307.80 H480.60 M478.00 307.80 V308.80 M475.40 308.80 H480.60" fill="none" stroke="#333" stroke-width="0.45" />
<text x="478.00" y="307.31" font-size="4.2" text-anchor="middle" stroke="#000" stroke-width="0.05">b</text>
<line x1="478.00" y1="319.20" x2="478.00" y2="320.20" stroke="#555" stroke-width="0.4" />
<text x="478.00" y="323.39" font-size="3.3" text-anchor="middle" fill="#333" stroke="#333" stroke-width="0.05">Dead</text>
<text x="478.00" y="327.99" font-size="3.3" text-anchor="middle" fill="#333" stroke="#333" stroke-width="0.05">pathobionts</text>
<text x="436.80" y="332.62" font-size="3.67" text-anchor="middle" stroke="#000" stroke-width="0.05" textLength="16.60" lengthAdjust="spacingAndGlyphs">Treatment</text>
<text x="0.10" y="346.70" font-size="17.6" text-anchor="start" font-weight="bold">C</text>
<rect x="50.40" y="354.20" width="158.40" height="149.30" fill="#fff" stroke="#8c8c8c" stroke-width="0.8" />
<text x="129.00" y="353.04" font-size="7.88" text-anchor="middle" stroke="#000" stroke-width="0.16" textLength="21.90" lengthAdjust="spacingAndGlyphs">24 hrs</text>
<text x="207.40" y="361.48" font-size="6.32" text-anchor="end" fill="#111" stroke="#111" stroke-width="0.16" textLength="57.60" lengthAdjust="spacingAndGlyphs">R2 = 0.41, p = 0.001</text>
<line x1="49.20" y1="379.30" x2="50.40" y2="379.30" stroke="#555" stroke-width="0.45" />
<text x="48.50" y="381.10" font-size="5.0" text-anchor="end" fill="#333" stroke="#333" stroke-width="0.16">50</text>
<line x1="49.20" y1="409.30" x2="50.40" y2="409.30" stroke="#555" stroke-width="0.45" />
<text x="48.50" y="411.10" font-size="5.0" text-anchor="end" fill="#333" stroke="#333" stroke-width="0.16">25</text>
<line x1="49.20" y1="439.30" x2="50.40" y2="439.30" stroke="#555" stroke-width="0.45" />
<text x="48.50" y="441.10" font-size="5.0" text-anchor="end" fill="#333" stroke="#333" stroke-width="0.16">0</text>
<line x1="49.20" y1="469.30" x2="50.40" y2="469.30" stroke="#555" stroke-width="0.45" />
<text x="48.50" y="471.10" font-size="5.0" text-anchor="end" fill="#333" stroke="#333" stroke-width="0.16">−25</text>
<line x1="49.20" y1="499.50" x2="50.40" y2="499.50" stroke="#555" stroke-width="0.45" />
<text x="48.50" y="501.30" font-size="5.0" text-anchor="end" fill="#333" stroke="#333" stroke-width="0.16">−50</text>
<line x1="83.60" y1="503.50" x2="83.60" y2="504.70" stroke="#555" stroke-width="0.45" />
<text x="83.60" y="508.20" font-size="5.0" text-anchor="middle" fill="#333" stroke="#333" stroke-width="0.16">−40</text>
<line x1="122.50" y1="503.50" x2="122.50" y2="504.70" stroke="#555" stroke-width="0.45" />
<text x="122.50" y="508.20" font-size="5.0" text-anchor="middle" fill="#333" stroke="#333" stroke-width="0.16">0</text>
<line x1="161.40" y1="503.50" x2="161.40" y2="504.70" stroke="#555" stroke-width="0.45" />
<text x="161.40" y="508.20" font-size="5.0" text-anchor="middle" fill="#333" stroke="#333" stroke-width="0.16">40</text>
<line x1="200.20" y1="503.50" x2="200.20" y2="504.70" stroke="#555" stroke-width="0.45" />
<text x="200.20" y="508.20" font-size="5.0" text-anchor="middle" fill="#333" stroke="#333" stroke-width="0.16">80</text>
<text x="37.40" y="430.18" font-size="5.23" text-anchor="middle" fill="#111" stroke="#111" stroke-width="0.16" textLength="75.60" lengthAdjust="spacingAndGlyphs" transform="rotate(-90 37.40 428.30)">Principal Component 2 (17.55%)</text>
<text x="129.30" y="514.15" font-size="5.15" text-anchor="middle" fill="#111" stroke="#111" stroke-width="0.16" textLength="74.50" lengthAdjust="spacingAndGlyphs">Principal Component 1 (19.21%)</text>
<line x1="77.60" y1="419.80" x2="57.30" y2="403.00" stroke="#D8707A" stroke-width="0.9" />
<line x1="77.60" y1="419.80" x2="94.40" y2="424.60" stroke="#D8707A" stroke-width="0.9" />
<line x1="77.60" y1="419.80" x2="81.00" y2="431.70" stroke="#D8707A" stroke-width="0.9" />
<circle cx="57.30" cy="403.00" r="1.8" fill="#D8707A"/>
<circle cx="94.40" cy="424.60" r="1.8" fill="#D8707A"/>
<circle cx="81.00" cy="431.70" r="1.8" fill="#D8707A"/>
<path d="M75.60 419.80 H79.60 M77.60 417.80 V421.80 M76.20 418.40 L79.00 421.20 M76.20 421.20 L79.00 418.40" fill="none" stroke="#222" stroke-width="0.5" />
<line x1="112.80" y1="458.40" x2="111.50" y2="418.20" stroke="#E0A22E" stroke-width="0.9" />
<line x1="112.80" y1="458.40" x2="125.60" y2="467.50" stroke="#E0A22E" stroke-width="0.9" />
<line x1="112.80" y1="458.40" x2="101.40" y2="489.60" stroke="#E0A22E" stroke-width="0.9" />
<path d="M109.80 418.20 L111.50 416.50 L113.20 418.20 L111.50 419.90 Z" fill="#E0A22E" />
<path d="M123.90 467.50 L125.60 465.80 L127.30 467.50 L125.60 469.20 Z" fill="#E0A22E" />
<path d="M99.70 489.60 L101.40 487.90 L103.10 489.60 L101.40 491.30 Z" fill="#E0A22E" />
<path d="M110.80 458.40 H114.80 M112.80 456.40 V460.40 M111.40 457.00 L114.20 459.80 M111.40 459.80 L114.20 457.00" fill="none" stroke="#222" stroke-width="0.5" />
<line x1="118.30" y1="469.70" x2="126.80" y2="450.60" stroke="#46AE79" stroke-width="0.9" />
<line x1="118.30" y1="469.70" x2="125.80" y2="473.70" stroke="#46AE79" stroke-width="0.9" />
<line x1="118.30" y1="469.70" x2="101.40" y2="485.60" stroke="#46AE79" stroke-width="0.9" />
<rect x="125.05" y="448.85" width="3.50" height="3.50" fill="#46AE79" />
<rect x="124.05" y="471.95" width="3.50" height="3.50" fill="#46AE79" />
<rect x="99.65" y="483.85" width="3.50" height="3.50" fill="#46AE79" />
<path d="M116.30 469.70 H120.30 M118.30 467.70 V471.70 M116.90 468.30 L119.70 471.10 M116.90 471.10 L119.70 468.30" fill="none" stroke="#222" stroke-width="0.5" />
<line x1="136.20" y1="391.80" x2="117.30" y2="360.60" stroke="#3B7BB7" stroke-width="0.9" />
<line x1="136.20" y1="391.80" x2="152.70" y2="393.80" stroke="#3B7BB7" stroke-width="0.9" />
<line x1="136.20" y1="391.80" x2="138.20" y2="421.00" stroke="#3B7BB7" stroke-width="0.9" />
<path d="M115.00 362.33 L119.60 362.33 L117.30 358.07 Z" fill="#3B7BB7" />
<path d="M150.40 395.53 L155.00 395.53 L152.70 391.27 Z" fill="#3B7BB7" />
<path d="M135.90 422.73 L140.50 422.73 L138.20 418.47 Z" fill="#3B7BB7" />
<path d="M134.20 391.80 H138.20 M136.20 389.80 V393.80 M134.80 390.40 L137.60 393.20 M134.80 393.20 L137.60 390.40" fill="none" stroke="#222" stroke-width="0.5" />
<line x1="169.40" y1="457.40" x2="201.00" y2="396.90" stroke="#A3274F" stroke-width="0.9" />
<line x1="169.40" y1="457.40" x2="148.70" y2="478.30" stroke="#A3274F" stroke-width="0.9" />
<line x1="169.40" y1="457.40" x2="157.60" y2="496.10" stroke="#A3274F" stroke-width="0.9" />
<path d="M198.90 396.90 H203.10 M201.00 394.80 V399.00" fill="none" stroke="#CF7F9A" stroke-width="0.6" />
<path d="M146.60 478.30 H150.80 M148.70 476.20 V480.40" fill="none" stroke="#CF7F9A" stroke-width="0.6" />
<path d="M155.50 496.10 H159.70 M157.60 494.00 V498.20" fill="none" stroke="#CF7F9A" stroke-width="0.6" />
<path d="M167.40 457.40 H171.40 M169.40 455.40 V459.40 M168.00 456.00 L170.80 458.80 M168.00 458.80 L170.80 456.00" fill="none" stroke="#222" stroke-width="0.5" />
<rect x="300.50" y="354.20" width="158.00" height="149.20" fill="#fff" stroke="#8c8c8c" stroke-width="0.8" />
<text x="379.80" y="353.05" font-size="7.92" text-anchor="middle" stroke="#000" stroke-width="0.16" textLength="17.60" lengthAdjust="spacingAndGlyphs">3 hrs</text>
<text x="457.10" y="361.48" font-size="6.32" text-anchor="end" fill="#111" stroke="#111" stroke-width="0.16" textLength="57.60" lengthAdjust="spacingAndGlyphs">R2 = 0.48, p = 0.001</text>
<line x1="299.30" y1="386.20" x2="300.50" y2="386.20" stroke="#555" stroke-width="0.45" />
<text x="298.60" y="388.00" font-size="5.0" text-anchor="end" fill="#333" stroke="#333" stroke-width="0.16">30</text>
<line x1="299.30" y1="425.40" x2="300.50" y2="425.40" stroke="#555" stroke-width="0.45" />
<text x="298.60" y="427.20" font-size="5.0" text-anchor="end" fill="#333" stroke="#333" stroke-width="0.16">0</text>
<line x1="299.30" y1="465.30" x2="300.50" y2="465.30" stroke="#555" stroke-width="0.45" />
<text x="298.60" y="467.10" font-size="5.0" text-anchor="end" fill="#333" stroke="#333" stroke-width="0.16">−30</text>
<line x1="301.20" y1="503.40" x2="301.20" y2="504.60" stroke="#555" stroke-width="0.45" />
<text x="301.20" y="508.20" font-size="5.0" text-anchor="middle" fill="#333" stroke="#333" stroke-width="0.16">−100</text>
<line x1="349.50" y1="503.40" x2="349.50" y2="504.60" stroke="#555" stroke-width="0.45" />
<text x="349.50" y="508.20" font-size="5.0" text-anchor="middle" fill="#333" stroke="#333" stroke-width="0.16">−50</text>
<line x1="397.80" y1="503.40" x2="397.80" y2="504.60" stroke="#555" stroke-width="0.45" />
<text x="397.80" y="508.20" font-size="5.0" text-anchor="middle" fill="#333" stroke="#333" stroke-width="0.16">0</text>
<line x1="446.20" y1="503.40" x2="446.20" y2="504.60" stroke="#555" stroke-width="0.45" />
<text x="446.20" y="508.20" font-size="5.0" text-anchor="middle" fill="#333" stroke="#333" stroke-width="0.16">50</text>
<text x="288.30" y="430.18" font-size="5.23" text-anchor="middle" fill="#111" stroke="#111" stroke-width="0.16" textLength="75.60" lengthAdjust="spacingAndGlyphs" transform="rotate(-90 288.30 428.30)">Principal Component 2 (14.86%)</text>
<text x="379.70" y="514.16" font-size="5.17" text-anchor="middle" fill="#111" stroke="#111" stroke-width="0.16" textLength="71.80" lengthAdjust="spacingAndGlyphs">Principal Component 1 (19.8%)</text>
<line x1="341.40" y1="397.10" x2="307.50" y2="360.70" stroke="#D8707A" stroke-width="0.9" />
<line x1="341.40" y1="397.10" x2="341.90" y2="406.00" stroke="#D8707A" stroke-width="0.9" />
<line x1="341.40" y1="397.10" x2="375.00" y2="425.10" stroke="#D8707A" stroke-width="0.9" />
<circle cx="307.50" cy="360.70" r="1.8" fill="#D8707A"/>
<circle cx="341.90" cy="406.00" r="1.8" fill="#D8707A"/>
<circle cx="375.00" cy="425.10" r="1.8" fill="#D8707A"/>
<path d="M339.40 397.10 H343.40 M341.40 395.10 V399.10 M340.00 395.70 L342.80 398.50 M340.00 398.50 L342.80 395.70" fill="none" stroke="#222" stroke-width="0.5" />
<line x1="423.50" y1="434.10" x2="439.80" y2="399.20" stroke="#E0A22E" stroke-width="0.9" />
<line x1="423.50" y1="434.10" x2="415.60" y2="446.70" stroke="#E0A22E" stroke-width="0.9" />
<line x1="423.50" y1="434.10" x2="414.90" y2="457.40" stroke="#E0A22E" stroke-width="0.9" />
<path d="M438.10 399.20 L439.80 397.50 L441.50 399.20 L439.80 400.90 Z" fill="#E0A22E" />
<path d="M413.90 446.70 L415.60 445.00 L417.30 446.70 L415.60 448.40 Z" fill="#E0A22E" />
<path d="M413.20 457.40 L414.90 455.70 L416.60 457.40 L414.90 459.10 Z" fill="#E0A22E" />
<path d="M421.50 434.10 H425.50 M423.50 432.10 V436.10 M422.10 432.70 L424.90 435.50 M422.10 435.50 L424.90 432.70" fill="none" stroke="#222" stroke-width="0.5" />
<line x1="405.70" y1="425.00" x2="391.50" y2="423.10" stroke="#46AE79" stroke-width="0.9" />
<line x1="405.70" y1="425.00" x2="413.10" y2="415.40" stroke="#46AE79" stroke-width="0.9" />
<line x1="405.70" y1="425.00" x2="413.60" y2="437.30" stroke="#46AE79" stroke-width="0.9" />
<rect x="389.75" y="421.35" width="3.50" height="3.50" fill="#46AE79" />
<rect x="411.35" y="413.65" width="3.50" height="3.50" fill="#46AE79" />
<rect x="411.85" y="435.55" width="3.50" height="3.50" fill="#46AE79" />
<path d="M403.70 425.00 H407.70 M405.70 423.00 V427.00 M404.30 423.60 L407.10 426.40 M404.30 426.40 L407.10 423.60" fill="none" stroke="#222" stroke-width="0.5" />
<line x1="431.70" y1="382.10" x2="419.50" y2="366.10" stroke="#3B7BB7" stroke-width="0.9" />
<line x1="431.70" y1="382.10" x2="451.50" y2="365.30" stroke="#3B7BB7" stroke-width="0.9" />
<line x1="431.70" y1="382.10" x2="423.30" y2="414.20" stroke="#3B7BB7" stroke-width="0.9" />
<path d="M417.20 367.83 L421.80 367.83 L419.50 363.57 Z" fill="#3B7BB7" />
<path d="M449.20 367.03 L453.80 367.03 L451.50 362.77 Z" fill="#3B7BB7" />
<path d="M421.00 415.93 L425.60 415.93 L423.30 411.67 Z" fill="#3B7BB7" />
<path d="M429.70 382.10 H433.70 M431.70 380.10 V384.10 M430.30 380.70 L433.10 383.50 M430.30 383.50 L433.10 380.70" fill="none" stroke="#222" stroke-width="0.5" />
<line x1="387.60" y1="489.50" x2="388.40" y2="482.40" stroke="#A3274F" stroke-width="0.9" />
<line x1="387.60" y1="489.50" x2="382.50" y2="490.80" stroke="#A3274F" stroke-width="0.9" />
<line x1="387.60" y1="489.50" x2="392.20" y2="495.90" stroke="#A3274F" stroke-width="0.9" />
<path d="M386.30 482.40 H390.50 M388.40 480.30 V484.50" fill="none" stroke="#CF7F9A" stroke-width="0.6" />
<path d="M380.40 490.80 H384.60 M382.50 488.70 V492.90" fill="none" stroke="#CF7F9A" stroke-width="0.6" />
<path d="M390.10 495.90 H394.30 M392.20 493.80 V498.00" fill="none" stroke="#CF7F9A" stroke-width="0.6" />
<path d="M385.60 489.50 H389.60 M387.60 487.50 V491.50 M386.20 488.10 L389.00 490.90 M386.20 490.90 L389.00 488.10" fill="none" stroke="#222" stroke-width="0.5" />
<text x="213.20" y="409.43" font-size="5.63" text-anchor="start" fill="#111" stroke="#111" stroke-width="0.16" textLength="23.80" lengthAdjust="spacingAndGlyphs">Condition</text>
<line x1="214.00" y1="415.50" x2="219.80" y2="415.50" stroke="#D8707A" stroke-width="0.9" />
<circle cx="216.90" cy="415.50" r="1.8" fill="#D8707A"/>
<text x="222.90" y="417.56" font-size="5.71" text-anchor="start" fill="#111" stroke="#111" stroke-width="0.16" textLength="33.00" lengthAdjust="spacingAndGlyphs">No treatment</text>
<line x1="214.00" y1="423.70" x2="219.80" y2="423.70" stroke="#E0A22E" stroke-width="0.9" />
<path d="M215.20 423.70 L216.90 422.00 L218.60 423.70 L216.90 425.40 Z" fill="#E0A22E" />
<text x="222.90" y="425.76" font-size="5.72" text-anchor="start" fill="#111" stroke="#111" stroke-width="0.16" textLength="58.20" lengthAdjust="spacingAndGlyphs">Heat-killed pathobionts</text>
<line x1="214.00" y1="431.90" x2="219.80" y2="431.90" stroke="#3B7BB7" stroke-width="0.9" />
<path d="M214.60 433.93 L219.20 433.93 L216.90 429.67 Z" fill="#3B7BB7" />
<text x="222.90" y="433.93" font-size="5.65" text-anchor="start" fill="#111" stroke="#111" stroke-width="0.16" textLength="33.00" lengthAdjust="spacingAndGlyphs">Flagellin only</text>
<line x1="214.00" y1="440.10" x2="219.80" y2="440.10" stroke="#46AE79" stroke-width="0.9" />
<rect x="215.15" y="438.35" width="3.50" height="3.50" fill="#46AE79" />
<text x="222.90" y="442.15" font-size="5.69" text-anchor="start" fill="#111" stroke="#111" stroke-width="0.16" textLength="38.40" lengthAdjust="spacingAndGlyphs">Flagellin + LPS</text>
<line x1="214.00" y1="448.30" x2="219.80" y2="448.30" stroke="#A3274F" stroke-width="0.9" />
<path d="M214.80 448.30 H219.00 M216.90 446.20 V450.40" fill="none" stroke="#CF7F9A" stroke-width="0.6" />
<text x="222.90" y="450.36" font-size="5.71" text-anchor="start" fill="#111" stroke="#111" stroke-width="0.16" textLength="41.60" lengthAdjust="spacingAndGlyphs">Live pathobionts</text>
<text x="-0.10" y="528.60" font-size="17.6" text-anchor="start" font-weight="bold">D</text>
<rect x="41.20" y="537.30" width="95.30" height="139.00" fill="#fff" stroke="#a8a8a8" stroke-width="0.9" />
<text x="88.60" y="535.02" font-size="7.84" text-anchor="middle" fill="#111" stroke="#111" stroke-width="0.16" textLength="29.20" lengthAdjust="spacingAndGlyphs">Flagellin</text>
<rect x="47.55" y="668.95" width="39.10" height="1.55" fill="#3B6FD6" stroke="#1c2b57" stroke-width="0.7" />
<rect x="91.35" y="652.83" width="38.40" height="17.67" fill="#3B6FD6" stroke="#1c2b57" stroke-width="0.7" />
<rect x="91.35" y="626.32" width="38.40" height="26.51" fill="#D3200F" stroke="#5a1010" stroke-width="0.7" />
<text x="67.00" y="684.47" font-size="7.7" text-anchor="middle" fill="#222" stroke="#222" stroke-width="0.16" textLength="21.40" lengthAdjust="spacingAndGlyphs">24 hrs</text>
<text x="110.00" y="684.49" font-size="7.74" text-anchor="middle" fill="#222" stroke="#222" stroke-width="0.16" textLength="17.20" lengthAdjust="spacingAndGlyphs">3 hrs</text>
<rect x="138.60" y="537.30" width="95.70" height="139.00" fill="#fff" stroke="#a8a8a8" stroke-width="0.9" />
<text x="186.40" y="535.04" font-size="7.88" text-anchor="middle" fill="#111" stroke="#111" stroke-width="0.16" textLength="53.20" lengthAdjust="spacingAndGlyphs">Flagellin + LPS</text>
<rect x="145.35" y="668.29" width="38.90" height="2.21" fill="#D3200F" stroke="#5a1010" stroke-width="0.7" />
<rect x="189.15" y="667.19" width="38.30" height="3.31" fill="#3B6FD6" stroke="#1c2b57" stroke-width="0.7" />
<rect x="189.15" y="651.72" width="38.30" height="15.46" fill="#D3200F" stroke="#5a1010" stroke-width="0.7" />
<text x="164.80" y="684.47" font-size="7.7" text-anchor="middle" fill="#222" stroke="#222" stroke-width="0.16" textLength="21.40" lengthAdjust="spacingAndGlyphs">24 hrs</text>
<text x="208.10" y="684.49" font-size="7.74" text-anchor="middle" fill="#222" stroke="#222" stroke-width="0.16" textLength="17.20" lengthAdjust="spacingAndGlyphs">3 hrs</text>
<rect x="236.40" y="537.30" width="96.20" height="139.00" fill="#fff" stroke="#a8a8a8" stroke-width="0.9" />
<text x="284.20" y="535.05" font-size="7.91" text-anchor="middle" fill="#111" stroke="#111" stroke-width="0.16" textLength="57.60" lengthAdjust="spacingAndGlyphs">Live pathobionts</text>
<rect x="243.45" y="576.62" width="38.50" height="93.88" fill="#3B6FD6" stroke="#1c2b57" stroke-width="0.7" />
<rect x="243.45" y="543.48" width="38.50" height="33.13" fill="#D3200F" stroke="#5a1010" stroke-width="0.7" />
<rect x="286.75" y="646.20" width="38.80" height="24.30" fill="#3B6FD6" stroke="#1c2b57" stroke-width="0.7" />
<rect x="286.75" y="637.37" width="38.80" height="8.84" fill="#D3200F" stroke="#5a1010" stroke-width="0.7" />
<text x="262.30" y="684.47" font-size="7.7" text-anchor="middle" fill="#222" stroke="#222" stroke-width="0.16" textLength="21.40" lengthAdjust="spacingAndGlyphs">24 hrs</text>
<text x="305.90" y="684.49" font-size="7.74" text-anchor="middle" fill="#222" stroke="#222" stroke-width="0.16" textLength="17.20" lengthAdjust="spacingAndGlyphs">3 hrs</text>
<rect x="334.40" y="537.30" width="95.90" height="139.00" fill="#fff" stroke="#a8a8a8" stroke-width="0.9" />
<text x="381.80" y="535.05" font-size="7.91" text-anchor="middle" fill="#111" stroke="#111" stroke-width="0.16" textLength="62.00" lengthAdjust="spacingAndGlyphs">Dead pathobionts</text>
<rect x="340.95" y="669.17" width="38.80" height="1.33" fill="#D3200F" stroke="#5a1010" stroke-width="0.7" />
<rect x="384.55" y="663.87" width="38.80" height="6.63" fill="#3B6FD6" stroke="#1c2b57" stroke-width="0.7" />
<rect x="384.55" y="658.35" width="38.80" height="5.52" fill="#D3200F" stroke="#5a1010" stroke-width="0.7" />
<text x="360.50" y="684.47" font-size="7.7" text-anchor="middle" fill="#222" stroke="#222" stroke-width="0.16" textLength="21.40" lengthAdjust="spacingAndGlyphs">24 hrs</text>
<text x="403.40" y="684.49" font-size="7.74" text-anchor="middle" fill="#222" stroke="#222" stroke-width="0.16" textLength="17.20" lengthAdjust="spacingAndGlyphs">3 hrs</text>
<text x="39.10" y="672.70" font-size="6.1" text-anchor="end" fill="#3a3a3a" stroke="#3a3a3a" stroke-width="0.16">0</text>
<text x="39.10" y="639.56" font-size="6.1" text-anchor="end" fill="#3a3a3a" stroke="#3a3a3a" stroke-width="0.16">30</text>
<text x="39.10" y="606.43" font-size="6.1" text-anchor="end" fill="#3a3a3a" stroke="#3a3a3a" stroke-width="0.16">60</text>
<text x="39.10" y="573.29" font-size="6.1" text-anchor="end" fill="#3a3a3a" stroke="#3a3a3a" stroke-width="0.16">90</text>
<text x="39.10" y="540.16" font-size="6.1" text-anchor="end" fill="#3a3a3a" stroke="#3a3a3a" stroke-width="0.16">120</text>
<text x="23.70" y="609.17" font-size="7.14" text-anchor="middle" fill="#111" stroke="#111" stroke-width="0.16" textLength="132.40" lengthAdjust="spacingAndGlyphs" transform="rotate(-90 23.70 606.60)">Number of differentially abundant proteins</text>
<text x="436.60" y="592.42" font-size="7.28" text-anchor="start" fill="#111" stroke="#111" stroke-width="0.16" textLength="36.80" lengthAdjust="spacingAndGlyphs">Direction of</text>
<text x="436.60" y="601.39" font-size="7.19" text-anchor="start" fill="#111" stroke="#111" stroke-width="0.16" textLength="23.60" lengthAdjust="spacingAndGlyphs">change</text>
<rect x="436.60" y="604.20" width="11.20" height="11.20" fill="#D3200F" />
<rect x="436.60" y="615.40" width="11.20" height="11.40" fill="#3B6FD6" />
<text x="450.30" y="612.16" font-size="6.0" text-anchor="start" fill="#111" stroke="#111" stroke-width="0.16">Up</text>
<text x="450.30" y="623.66" font-size="6.0" text-anchor="start" fill="#111" stroke="#111" stroke-width="0.16">Down</text>
</svg>
</body></html>
